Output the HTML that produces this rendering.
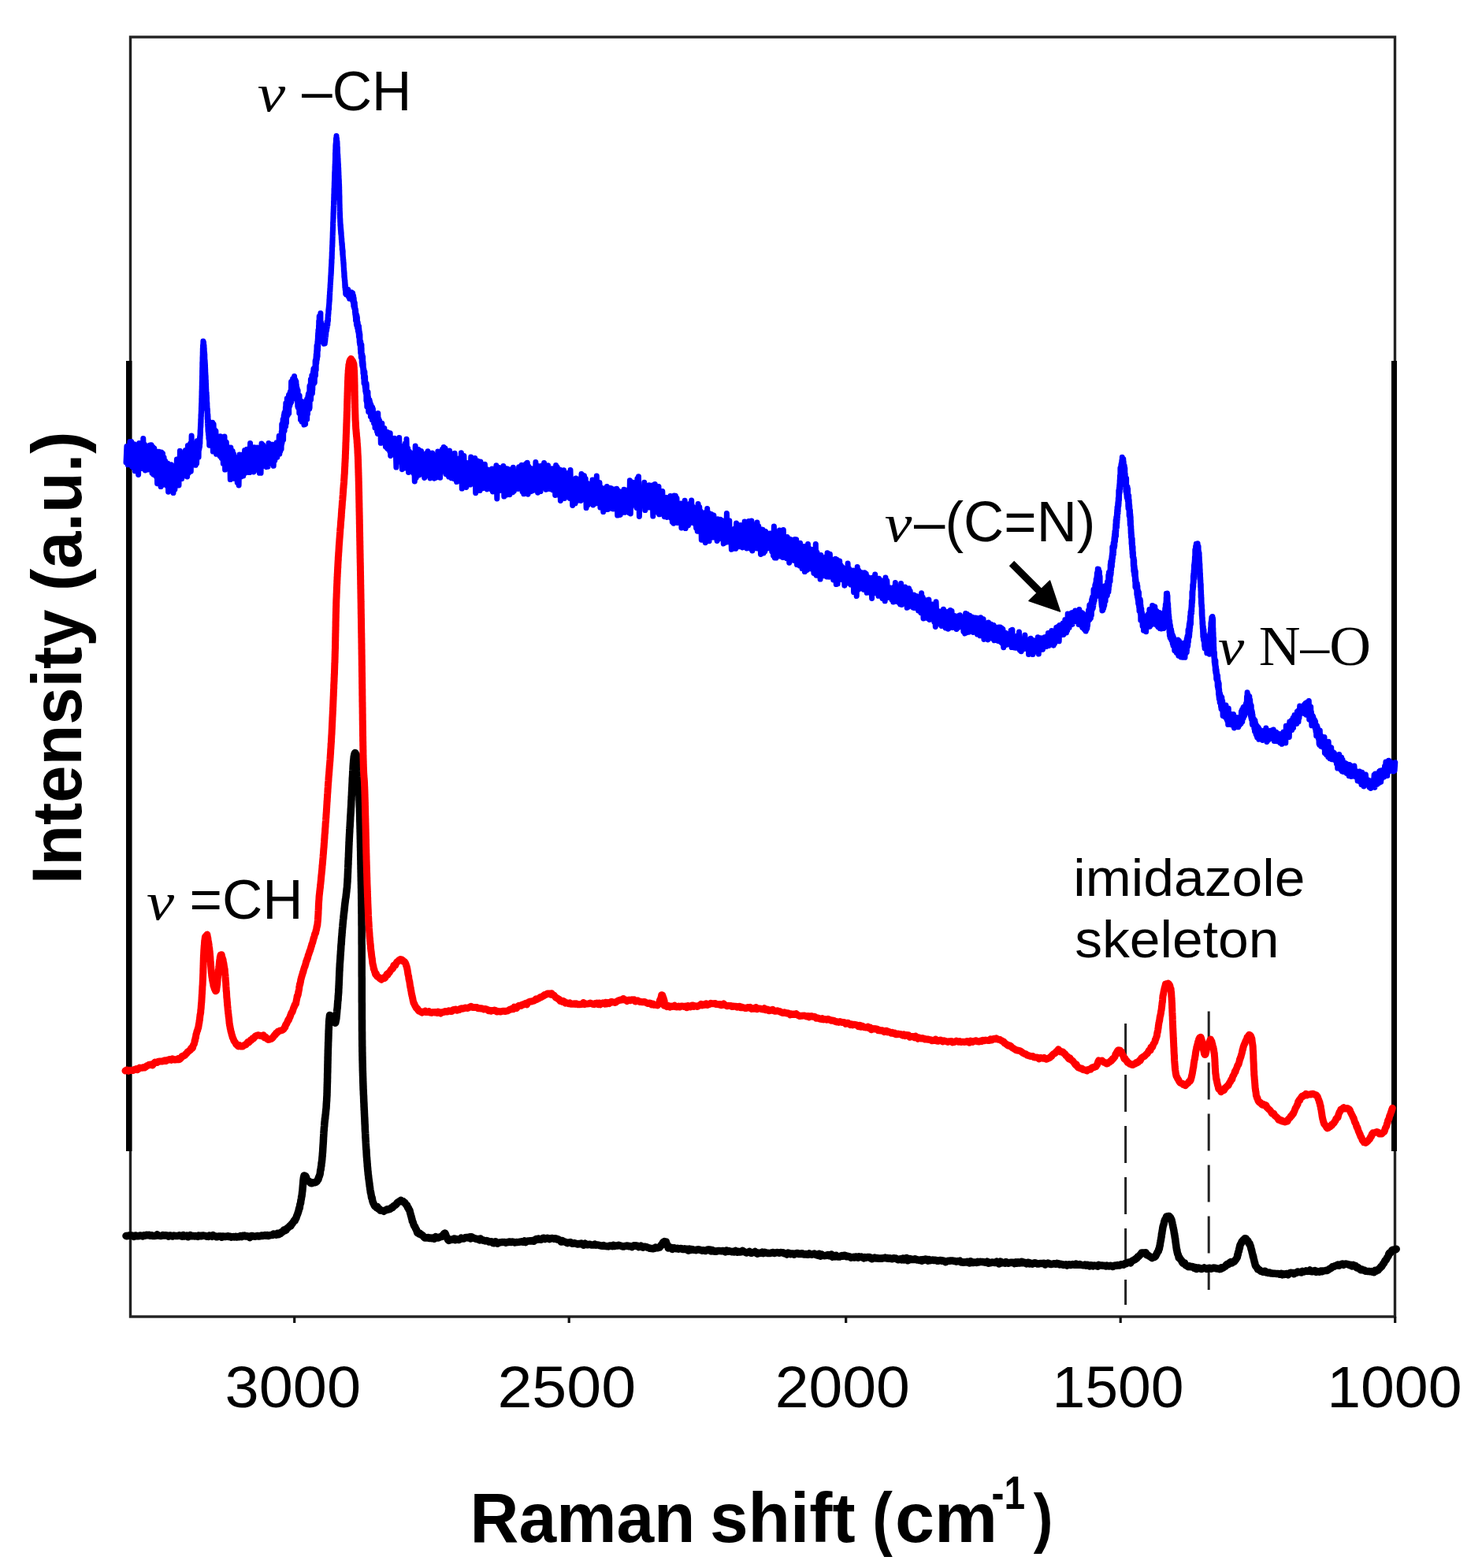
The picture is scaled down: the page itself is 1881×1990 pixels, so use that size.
<!DOCTYPE html>
<html><head><meta charset="utf-8"><title>Raman spectra</title>
<style>html,body{margin:0;padding:0;background:#fff;} svg{display:block;} text{font-kerning:none;}</style>
</head><body>
<svg width="1881" height="1990" viewBox="0 0 1881 1990">
<rect width="1881" height="1990" fill="#fff"/>
<rect x="165.5" y="47" width="1605.0" height="1624" fill="none" stroke="#222" stroke-width="3.4"/>
<rect x="160" y="458" width="7.5" height="1003" fill="#000"/>
<rect x="1766" y="458" width="7" height="1003" fill="#000"/>
<line x1="373.7" y1="1671" x2="373.7" y2="1679" stroke="#111" stroke-width="3.2"/>
<line x1="722.2" y1="1671" x2="722.2" y2="1679" stroke="#111" stroke-width="3.2"/>
<line x1="1073.7" y1="1671" x2="1073.7" y2="1679" stroke="#111" stroke-width="3.2"/>
<line x1="1422.2" y1="1671" x2="1422.2" y2="1679" stroke="#111" stroke-width="3.2"/>
<line x1="1770.7" y1="1671" x2="1770.7" y2="1679" stroke="#111" stroke-width="3.2"/>
<line x1="1428.6" y1="1299" x2="1428.6" y2="1656" stroke="#222" stroke-width="3" stroke-dasharray="47 18"/>
<line x1="1534.2" y1="1283.5" x2="1534.2" y2="1637" stroke="#222" stroke-width="3" stroke-dasharray="47 18"/>
<polyline points="160.0,1568.5 161.3,1568.7 162.8,1568.3 164.1,1568.0 165.5,1568.2 167.0,1567.9 168.6,1568.5 169.8,1569.3 171.1,1568.2 172.4,1568.1 173.8,1568.8 175.2,1568.7 176.6,1568.5 178.1,1567.9 179.6,1568.5 181.1,1568.9 182.7,1567.7 184.3,1568.2 185.9,1567.3 187.6,1567.7 189.2,1567.3 190.9,1568.3 192.6,1567.7 194.3,1568.6 196.1,1568.5 197.8,1568.3 199.5,1566.9 201.3,1568.1 203.1,1568.4 204.9,1568.5 206.6,1567.5 208.4,1568.1 210.2,1567.8 212.0,1567.9 213.8,1569.1 215.5,1567.9 217.3,1568.4 219.0,1569.0 220.8,1568.1 222.5,1568.4 224.2,1568.5 225.9,1568.5 227.6,1567.7 229.3,1568.5 230.9,1569.2 232.5,1567.5 234.1,1569.0 235.7,1568.5 237.2,1568.1 238.7,1569.7 240.2,1568.9 241.6,1567.7 243.0,1568.5 244.4,1568.8 245.7,1568.4 247.0,1568.9 248.2,1568.5 249.7,1568.9 251.0,1569.4 252.3,1568.1 253.6,1568.7 254.9,1568.3 256.1,1568.7 257.4,1567.9 259.2,1568.3 260.9,1568.6 262.6,1569.2 264.2,1569.4 265.8,1568.0 267.4,1568.4 268.9,1569.3 270.4,1567.7 271.9,1568.7 273.4,1569.0 274.8,1569.8 276.2,1569.5 277.5,1569.0 278.9,1569.0 280.2,1569.1 281.6,1570.2 282.9,1569.1 284.2,1569.2 285.5,1569.6 286.8,1569.3 288.2,1569.3 289.5,1568.8 290.8,1569.5 292.1,1569.2 293.5,1570.2 294.8,1569.9 296.2,1569.5 297.6,1569.9 299.0,1569.3 300.5,1570.1 302.1,1569.5 303.7,1569.8 305.3,1568.6 307.0,1569.6 308.6,1568.3 310.3,1568.1 312.0,1569.1 313.7,1568.7 315.4,1569.3 317.1,1570.5 318.8,1568.6 320.4,1568.6 322.1,1569.1 323.8,1569.2 325.4,1568.7 327.1,1568.6 328.7,1569.1 330.3,1568.9 331.8,1567.9 333.4,1568.4 334.8,1568.3 336.3,1567.6 337.7,1568.3 339.1,1567.5 340.4,1568.5 341.7,1568.0 342.9,1567.8 344.5,1567.3 345.9,1567.4 347.3,1566.1 348.7,1566.5 350.7,1567.1 352.2,1565.3 353.5,1566.8 354.9,1564.8 356.1,1565.6 357.0,1563.8 358.1,1563.9 359.3,1562.7 360.5,1560.9 361.7,1561.8 363.0,1561.1 364.2,1559.2 365.4,1558.2 366.7,1557.2 367.8,1555.7 369.0,1555.9 370.0,1553.8 371.0,1553.0 371.9,1551.4 372.8,1550.3 373.6,1548.7 374.3,1549.1 375.0,1547.0 375.7,1546.3 376.3,1544.3 377.0,1542.4 377.6,1541.0 378.0,1539.7 378.4,1538.8 378.8,1537.3 379.2,1536.0 379.5,1534.0 379.9,1532.9 380.3,1532.9 380.6,1530.0 380.9,1528.3 381.3,1527.6 381.6,1526.7 381.9,1523.4 382.2,1522.5 382.5,1520.7 382.7,1518.5 383.0,1518.4 383.2,1516.5 383.4,1515.0 383.6,1512.8 383.8,1511.9 384.0,1509.6 384.1,1508.1 384.3,1505.7 384.4,1504.0 384.5,1503.8 384.7,1501.1 384.8,1500.0 384.9,1498.4 385.1,1496.8 385.3,1495.2 385.4,1494.6 386.0,1492.0 387.5,1492.3 388.4,1493.6 389.0,1495.7 389.6,1497.1 390.4,1498.5 391.4,1499.0 392.7,1499.5 394.2,1501.5 395.9,1501.7 397.3,1500.8 398.5,1500.9 399.9,1500.7 401.2,1500.1 402.5,1499.0 403.3,1497.1 404.0,1496.9 404.5,1494.0 405.0,1493.8 405.3,1492.4 405.7,1491.4 406.0,1490.7 406.3,1489.1 406.6,1486.1 406.9,1484.2 407.2,1484.1 407.4,1481.3 407.7,1480.1 407.9,1479.4 408.0,1476.7 408.2,1475.1 408.4,1475.2 408.5,1473.7 408.7,1472.1 408.8,1471.0 408.9,1469.2 409.1,1467.5 409.2,1466.9 409.3,1465.0 409.4,1463.2 409.5,1463.0 409.6,1461.2 409.7,1459.9 409.8,1457.5 409.9,1456.2 410.0,1454.4 410.1,1452.8 410.2,1451.9 410.3,1449.7 410.4,1448.8 410.4,1447.1 410.5,1446.5 410.6,1442.9 410.7,1442.7 410.8,1440.5 410.9,1439.0 411.0,1436.6 411.1,1435.6 411.2,1434.9 411.3,1432.9 411.4,1431.5 411.6,1429.8 411.7,1429.1 411.8,1427.0 412.0,1424.3 412.1,1423.8 412.3,1421.7 412.4,1419.6 412.5,1419.9 412.7,1419.7 412.8,1417.6 413.0,1415.5 413.1,1414.3 413.3,1414.2 413.4,1412.2 413.5,1410.8 413.7,1409.2 413.8,1407.8 414.0,1406.7 414.1,1405.0 414.2,1403.1 414.3,1400.7 414.4,1399.8 414.5,1397.8 414.6,1397.6 414.7,1394.9 414.7,1394.1 414.8,1393.0 414.9,1390.9 414.9,1391.4 415.0,1389.9 415.0,1387.4 415.1,1386.7 415.1,1385.0 415.2,1381.7 415.2,1382.0 415.2,1380.2 415.3,1378.8 415.3,1376.5 415.4,1375.4 415.4,1373.9 415.5,1373.1 415.5,1371.0 415.5,1369.2 415.6,1368.4 415.6,1365.5 415.6,1364.0 415.7,1361.5 415.7,1361.9 415.8,1359.9 415.8,1358.2 415.8,1356.4 415.9,1354.5 415.9,1352.9 415.9,1351.0 416.0,1349.5 416.0,1348.1 416.0,1347.4 416.1,1345.3 416.1,1343.4 416.1,1341.6 416.2,1340.1 416.2,1340.0 416.2,1338.0 416.3,1336.3 416.3,1334.8 416.3,1333.0 416.4,1332.4 416.4,1331.2 416.5,1329.2 416.5,1328.0 416.6,1326.8 416.6,1325.7 416.6,1323.4 416.7,1323.0 416.7,1321.4 416.8,1321.3 416.8,1319.1 416.9,1318.1 416.9,1316.9 417.0,1314.1 417.0,1312.2 417.1,1311.0 417.1,1309.3 417.2,1307.1 417.3,1306.5 417.3,1305.9 417.4,1303.1 417.4,1301.8 417.5,1299.9 417.6,1299.5 417.6,1297.3 417.7,1295.8 417.8,1295.8 417.9,1293.2 418.0,1293.2 418.3,1290.5 418.5,1288.4 419.7,1289.0 420.7,1291.0 421.6,1291.3 422.2,1292.2 423.0,1293.2 423.8,1295.4 424.6,1297.8 425.7,1298.2 426.2,1295.7 426.5,1294.4 426.7,1293.3 426.9,1292.3 427.0,1290.4 427.2,1289.0 427.4,1287.3 427.5,1285.7 427.6,1284.7 427.7,1283.6 427.8,1281.7 428.0,1280.3 428.1,1279.8 428.3,1277.7 428.4,1276.1 428.5,1273.7 428.6,1273.6 428.7,1270.9 428.9,1269.8 429.0,1269.8 429.1,1268.2 429.2,1266.1 429.3,1263.5 429.5,1262.6 429.5,1261.2 429.6,1260.7 429.7,1260.4 429.8,1257.9 429.8,1256.1 429.9,1254.6 430.0,1253.9 430.0,1252.5 430.1,1250.5 430.2,1249.9 430.2,1247.7 430.3,1247.6 430.3,1246.1 430.4,1244.6 430.5,1242.1 430.5,1241.1 430.6,1239.2 430.7,1237.4 430.7,1235.9 430.8,1233.7 430.9,1232.0 431.0,1231.7 431.0,1229.5 431.1,1228.1 431.2,1226.9 431.3,1223.6 431.4,1222.5 431.5,1221.7 431.6,1220.4 431.7,1218.5 431.8,1217.9 431.9,1215.9 432.0,1213.5 432.1,1212.1 432.2,1211.6 432.3,1209.9 432.4,1206.9 432.5,1207.2 432.6,1205.2 432.7,1204.0 432.8,1201.4 432.9,1199.9 433.1,1197.8 433.2,1198.4 433.3,1195.2 433.4,1194.8 433.5,1191.9 433.6,1190.8 433.8,1188.3 433.9,1187.6 434.0,1186.9 434.1,1184.2 434.2,1184.2 434.3,1182.4 434.4,1180.2 434.6,1179.1 434.7,1177.3 434.9,1175.8 435.0,1173.9 435.2,1172.0 435.3,1170.8 435.5,1168.8 435.6,1167.1 435.8,1166.3 435.9,1165.4 436.1,1162.5 436.2,1162.0 436.4,1160.2 436.5,1158.6 436.7,1158.3 436.8,1156.1 437.0,1155.9 437.1,1153.2 437.3,1152.5 437.4,1150.8 437.6,1149.0 437.7,1148.2 437.9,1146.2 438.1,1145.1 438.3,1143.2 438.5,1141.2 438.7,1140.3 438.9,1139.0 439.1,1138.1 439.3,1135.5 439.5,1134.6 439.7,1132.2 439.8,1132.1 440.0,1129.6 440.2,1127.6 440.3,1127.1 440.5,1126.2 440.6,1123.2 440.7,1122.0 440.8,1120.8 440.9,1119.2 441.0,1118.7 441.0,1116.5 441.1,1115.1 441.2,1114.4 441.3,1112.2 441.3,1111.4 441.4,1109.0 441.5,1107.4 441.5,1105.5 441.6,1106.2 441.6,1103.3 441.7,1102.1 441.8,1100.3 441.8,1098.9 441.9,1097.2 442.0,1096.7 442.0,1093.4 442.1,1091.7 442.2,1090.6 442.2,1089.0 442.3,1088.8 442.4,1087.3 442.4,1084.8 442.5,1083.0 442.5,1082.2 442.6,1081.7 442.7,1077.6 442.7,1078.1 442.8,1075.6 442.8,1075.4 442.9,1072.6 443.0,1071.5 443.0,1069.2 443.1,1068.0 443.2,1067.9 443.2,1066.0 443.3,1063.8 443.4,1062.0 443.5,1059.9 443.5,1059.3 443.6,1058.0 443.7,1056.4 443.8,1054.9 443.8,1052.8 443.9,1051.9 444.0,1050.3 444.1,1049.6 444.2,1048.4 444.3,1045.7 444.4,1043.8 444.5,1042.7 444.6,1040.8 444.7,1039.2 444.7,1038.1 444.8,1036.0 444.9,1035.5 445.0,1033.6 445.1,1032.3 445.2,1030.6 445.3,1028.8 445.3,1027.3 445.4,1026.3 445.5,1024.7 445.6,1023.5 445.7,1021.8 445.8,1019.4 445.8,1018.7 445.9,1016.3 446.0,1015.2 446.1,1013.8 446.1,1011.3 446.2,1011.0 446.3,1009.6 446.4,1007.9 446.4,1006.3 446.5,1004.9 446.6,1003.0 446.6,1002.0 446.7,1000.4 446.8,999.3 446.9,997.1 446.9,996.6 447.0,995.1 447.1,993.3 447.2,991.5 447.2,990.5 447.3,987.5 447.4,987.1 447.5,985.3 447.6,983.7 447.7,982.1 447.7,979.9 447.8,978.6 447.9,977.6 448.0,976.0 448.1,974.4 448.2,972.0 448.2,971.9 448.3,971.0 448.4,969.3 448.6,967.3 448.7,964.7 448.9,964.8 449.0,962.8 449.3,959.8 449.5,960.1 449.8,957.5 450.1,956.5 450.8,955.4 452.0,957.8 452.4,958.1 452.6,959.8 452.8,962.0 453.0,963.5 453.1,963.8 453.3,965.2 453.4,966.3 453.5,967.9 453.6,970.0 453.8,971.5 453.9,972.9 454.0,974.7 454.1,974.9 454.2,976.7 454.3,978.6 454.4,979.9 454.5,981.7 454.6,982.8 454.7,984.0 454.8,986.0 454.9,986.8 455.0,988.1 455.1,991.2 455.1,992.6 455.2,994.6 455.3,994.6 455.4,996.6 455.4,997.7 455.5,998.8 455.5,999.5 455.6,1001.9 455.6,1003.9 455.7,1004.9 455.7,1005.7 455.8,1007.4 455.8,1009.3 455.9,1008.6 455.9,1011.6 456.0,1013.5 456.0,1015.1 456.1,1017.2 456.1,1018.4 456.2,1019.4 456.2,1020.9 456.3,1022.8 456.3,1023.6 456.4,1025.4 456.4,1027.6 456.4,1029.8 456.5,1030.1 456.5,1031.8 456.6,1033.5 456.6,1035.8 456.7,1036.5 456.7,1039.0 456.7,1039.1 456.8,1041.2 456.8,1042.7 456.9,1044.9 456.9,1046.6 456.9,1046.6 457.0,1048.4 457.0,1050.7 457.0,1051.6 457.1,1052.6 457.1,1055.6 457.2,1056.7 457.2,1058.1 457.2,1059.0 457.3,1061.3 457.3,1062.0 457.3,1064.2 457.3,1064.4 457.4,1065.9 457.4,1067.9 457.4,1068.8 457.5,1071.1 457.5,1072.2 457.5,1073.0 457.5,1075.0 457.6,1076.2 457.6,1078.4 457.6,1079.0 457.7,1080.6 457.7,1083.0 457.7,1085.2 457.7,1086.5 457.8,1086.9 457.8,1088.6 457.8,1091.0 457.9,1091.6 457.9,1092.7 457.9,1095.0 457.9,1096.8 458.0,1097.8 458.0,1099.0 458.0,1100.4 458.0,1103.0 458.1,1103.4 458.1,1104.9 458.1,1106.7 458.2,1108.5 458.2,1109.5 458.2,1111.5 458.2,1112.1 458.3,1113.9 458.3,1115.0 458.3,1117.8 458.4,1118.6 458.4,1119.7 458.4,1121.5 458.5,1123.2 458.5,1124.9 458.5,1124.8 458.5,1126.4 458.6,1128.1 458.6,1131.2 458.6,1131.6 458.6,1132.4 458.7,1134.4 458.7,1136.7 458.7,1136.9 458.7,1138.5 458.7,1141.1 458.8,1142.4 458.8,1144.3 458.8,1144.8 458.8,1147.6 458.8,1148.7 458.8,1149.4 458.9,1150.8 458.9,1150.6 458.9,1153.6 458.9,1154.6 458.9,1156.4 458.9,1158.1 458.9,1159.1 459.0,1159.9 459.0,1162.8 459.0,1163.8 459.0,1165.8 459.0,1167.1 459.0,1168.7 459.0,1169.0 459.0,1172.6 459.0,1173.6 459.1,1175.7 459.1,1177.5 459.1,1177.6 459.1,1177.7 459.1,1179.6 459.1,1180.7 459.1,1182.4 459.1,1184.1 459.1,1184.2 459.1,1187.0 459.1,1187.2 459.1,1189.7 459.1,1190.9 459.1,1192.2 459.1,1193.8 459.1,1195.0 459.1,1196.4 459.1,1197.2 459.2,1199.7 459.2,1202.3 459.2,1203.9 459.2,1205.1 459.2,1206.3 459.2,1207.0 459.2,1209.8 459.2,1210.5 459.2,1212.1 459.2,1213.5 459.2,1215.4 459.2,1216.7 459.2,1218.5 459.2,1219.5 459.2,1221.6 459.2,1224.8 459.2,1225.0 459.2,1226.6 459.2,1228.7 459.2,1230.5 459.2,1231.1 459.2,1233.3 459.2,1235.6 459.2,1236.9 459.2,1238.5 459.3,1241.1 459.3,1241.4 459.3,1243.6 459.3,1244.9 459.3,1247.8 459.3,1247.5 459.3,1249.9 459.3,1251.7 459.3,1254.1 459.3,1255.8 459.3,1258.0 459.3,1257.9 459.3,1261.0 459.3,1262.0 459.3,1263.5 459.3,1265.9 459.3,1266.7 459.3,1267.7 459.3,1270.4 459.3,1271.4 459.4,1273.6 459.4,1275.9 459.4,1277.5 459.4,1279.9 459.4,1280.5 459.4,1281.3 459.4,1283.4 459.4,1284.9 459.4,1286.4 459.4,1289.0 459.4,1289.9 459.4,1290.7 459.4,1293.9 459.5,1295.0 459.5,1296.8 459.5,1298.2 459.5,1300.1 459.5,1301.3 459.5,1303.5 459.5,1304.5 459.5,1306.0 459.5,1307.5 459.5,1307.8 459.6,1310.1 459.6,1311.4 459.6,1313.2 459.6,1313.6 459.6,1316.8 459.6,1317.3 459.6,1317.8 459.6,1318.9 459.7,1321.1 459.7,1322.5 459.7,1323.4 459.7,1325.2 459.7,1326.0 459.7,1328.0 459.8,1328.4 459.8,1330.0 459.8,1332.2 459.8,1335.0 459.8,1334.2 459.9,1335.9 459.9,1337.1 459.9,1339.4 459.9,1339.6 460.0,1341.3 460.0,1342.9 460.0,1343.6 460.0,1344.9 460.1,1346.5 460.1,1346.8 460.1,1348.5 460.2,1350.3 460.2,1351.9 460.2,1352.9 460.2,1353.1 460.3,1355.7 460.3,1358.2 460.4,1359.8 460.4,1361.2 460.5,1362.4 460.5,1364.9 460.6,1365.9 460.6,1367.1 460.7,1368.9 460.7,1371.9 460.8,1372.7 460.8,1374.8 460.9,1375.3 460.9,1377.7 461.0,1378.2 461.0,1380.0 461.1,1383.0 461.2,1383.4 461.2,1384.0 461.3,1385.7 461.3,1387.3 461.4,1389.2 461.4,1389.6 461.5,1390.2 461.6,1392.4 461.6,1393.9 461.7,1395.2 461.7,1397.3 461.8,1398.0 461.8,1399.5 461.9,1399.7 462.0,1402.1 462.0,1404.1 462.1,1404.6 462.1,1405.5 462.2,1406.7 462.2,1408.9 462.3,1408.5 462.4,1410.2 462.4,1411.8 462.5,1413.1 462.5,1413.6 462.6,1415.3 462.6,1416.2 462.7,1417.6 462.8,1418.7 462.8,1419.3 462.9,1421.2 462.9,1423.2 463.0,1423.4 463.0,1425.1 463.1,1426.9 463.2,1427.1 463.2,1429.1 463.3,1429.5 463.3,1432.1 463.4,1434.6 463.5,1436.2 463.6,1436.6 463.7,1438.8 463.8,1440.1 463.8,1441.8 463.9,1444.3 464.0,1444.2 464.1,1447.2 464.2,1448.1 464.3,1450.5 464.4,1451.3 464.4,1452.2 464.5,1454.3 464.6,1456.0 464.7,1457.0 464.8,1458.7 464.9,1459.5 465.0,1459.9 465.1,1463.1 465.2,1464.3 465.2,1465.3 465.3,1466.5 465.4,1468.4 465.5,1468.8 465.6,1469.9 465.7,1471.4 465.8,1473.5 465.9,1473.2 466.0,1475.9 466.1,1476.0 466.2,1477.3 466.3,1480.1 466.4,1480.6 466.5,1481.2 466.6,1483.0 466.8,1485.0 466.9,1486.4 467.1,1487.2 467.2,1489.4 467.4,1491.2 467.6,1492.0 467.8,1494.2 467.9,1495.4 468.1,1496.6 468.3,1498.0 468.5,1499.7 468.7,1501.1 468.8,1502.0 469.0,1503.4 469.2,1505.5 469.4,1506.2 469.6,1507.8 469.8,1509.6 470.1,1511.1 470.3,1513.5 470.6,1512.9 470.8,1515.1 471.0,1515.7 471.4,1518.7 471.7,1520.2 472.0,1519.4 472.4,1521.4 472.7,1523.7 473.1,1524.9 473.6,1526.4 474.3,1527.7 474.9,1529.2 475.8,1530.7 476.8,1531.2 477.9,1532.7 479.0,1531.6 480.2,1534.3 481.5,1534.3 482.8,1536.3 484.2,1536.3 485.6,1536.4 487.0,1537.3 488.5,1536.3 490.0,1535.8 491.5,1534.7 493.0,1535.0 494.3,1534.6 495.6,1534.2 496.9,1532.7 498.2,1532.5 499.4,1531.0 500.6,1530.0 501.8,1529.3 502.9,1528.5 504.0,1526.6 505.0,1525.9 506.1,1525.2 507.5,1524.4 508.9,1523.4 510.3,1524.8 511.6,1524.6 513.0,1526.3 514.0,1526.5 514.8,1528.1 515.7,1529.2 516.6,1529.8 517.5,1532.5 518.3,1533.0 518.9,1534.9 519.4,1535.6 519.8,1535.8 520.2,1537.3 520.6,1539.2 521.0,1540.4 521.4,1542.0 521.7,1543.3 522.1,1544.0 522.5,1546.5 522.9,1546.8 523.3,1549.8 523.9,1550.6 524.4,1552.1 525.0,1554.0 525.7,1555.8 526.3,1556.3 526.9,1557.6 527.6,1559.3 528.2,1560.0 528.9,1561.8 529.7,1564.5 530.5,1563.9 531.7,1565.9 533.0,1565.3 534.3,1567.0 535.6,1567.4 536.7,1568.3 537.8,1569.6 539.0,1571.0 540.6,1570.7 541.9,1571.0 543.4,1570.5 544.7,1571.5 546.2,1571.0 547.9,1571.7 549.6,1571.1 551.3,1572.1 553.1,1569.7 554.8,1570.6 556.4,1571.1 557.8,1570.2 559.0,1569.7 560.5,1569.6 561.6,1568.0 562.3,1567.9 563.0,1567.7 563.5,1565.8 564.8,1565.0 565.5,1566.4 566.0,1567.8 566.5,1569.8 567.0,1569.8 567.7,1571.3 568.6,1573.4 569.6,1574.4 571.2,1573.8 572.5,1573.3 573.8,1573.0 575.3,1573.3 576.5,1572.1 577.8,1573.7 579.2,1572.6 580.7,1572.9 582.3,1573.5 583.9,1572.7 585.5,1571.1 587.2,1572.0 588.9,1572.0 590.7,1570.7 592.5,1570.4 594.2,1570.9 596.0,1570.0 597.3,1572.0 598.6,1569.8 600.0,1570.7 601.3,1571.4 602.7,1571.7 604.1,1572.2 605.5,1572.6 606.9,1572.6 608.4,1573.7 609.8,1572.1 611.3,1573.7 612.8,1573.7 614.3,1574.5 615.9,1574.9 617.5,1574.5 619.1,1575.0 620.7,1576.1 622.3,1576.1 624.0,1575.7 625.7,1577.5 627.4,1577.8 628.9,1575.7 630.3,1576.8 631.7,1578.2 633.1,1577.2 634.6,1576.9 636.1,1576.6 637.6,1576.4 639.2,1576.6 640.7,1576.4 642.3,1577.2 643.9,1576.5 645.5,1576.4 647.1,1575.9 648.8,1576.6 650.4,1576.0 652.0,1576.4 653.6,1577.0 655.2,1576.6 656.8,1576.6 658.3,1576.4 659.9,1576.1 661.4,1575.9 662.9,1575.7 664.3,1576.3 665.7,1575.1 667.1,1576.5 668.5,1575.6 669.8,1575.0 671.2,1575.1 672.4,1574.8 674.2,1575.1 675.9,1574.4 677.6,1575.2 679.1,1573.8 680.7,1572.5 682.2,1573.1 683.6,1572.1 685.0,1572.9 686.4,1573.3 687.8,1572.7 689.2,1571.2 690.5,1571.3 691.9,1572.6 693.2,1571.6 694.6,1571.3 696.0,1571.8 697.4,1572.6 698.8,1572.0 700.3,1571.4 701.7,1571.8 703.1,1572.2 704.4,1571.8 705.8,1571.9 707.1,1572.9 708.4,1572.8 709.7,1573.7 711.1,1574.3 712.4,1576.1 713.9,1574.7 715.3,1575.6 716.9,1576.0 718.5,1576.8 720.2,1577.6 721.4,1576.9 722.6,1576.9 723.9,1576.6 725.1,1577.2 726.4,1578.3 727.7,1578.1 729.0,1577.6 730.4,1578.2 731.8,1578.5 733.2,1579.0 734.7,1578.4 736.2,1578.8 737.7,1578.0 739.2,1578.5 740.7,1580.3 742.3,1578.1 743.9,1579.3 745.4,1579.8 747.0,1579.5 748.6,1579.3 750.2,1579.9 751.8,1580.0 753.4,1580.1 755.0,1579.1 756.6,1580.2 758.2,1579.9 759.8,1580.1 761.4,1580.7 762.9,1581.0 764.5,1581.2 766.0,1580.5 767.5,1581.4 769.0,1581.6 770.6,1581.7 772.2,1581.9 773.8,1581.0 775.4,1581.0 777.0,1581.7 778.6,1580.4 780.2,1581.4 781.9,1580.9 783.5,1581.1 785.1,1580.3 786.8,1580.8 788.4,1581.3 790.0,1581.9 791.6,1582.0 793.1,1581.4 794.7,1581.3 796.2,1581.0 797.7,1581.7 799.2,1581.4 800.6,1581.9 802.0,1582.6 803.4,1581.6 804.7,1580.7 806.0,1581.2 807.2,1580.8 808.8,1581.1 810.7,1582.7 812.1,1582.1 813.5,1581.2 814.8,1582.6 816.0,1583.1 817.2,1582.2 819.0,1582.3 820.6,1582.7 822.1,1583.3 823.5,1583.7 824.8,1584.2 826.0,1584.4 827.6,1584.5 829.1,1584.8 830.5,1584.4 832.2,1583.1 833.5,1583.8 835.0,1583.8 836.2,1583.0 837.2,1583.1 838.4,1581.5 839.4,1579.8 840.1,1580.2 840.7,1578.6 841.3,1577.3 842.1,1576.3 843.3,1575.6 844.5,1576.1 845.4,1575.9 846.0,1578.1 846.6,1579.4 847.2,1580.2 848.0,1582.1 848.2,1584.0 850.0,1583.5 851.8,1583.3 853.3,1585.4 854.6,1584.0 856.0,1583.7 857.5,1584.6 858.7,1584.8 860.0,1584.3 861.3,1585.2 862.7,1584.6 864.2,1584.4 865.7,1585.1 867.3,1585.6 869.0,1584.8 870.7,1585.5 872.4,1585.3 873.7,1587.2 874.9,1585.1 876.2,1586.4 877.5,1585.6 878.9,1585.7 880.2,1586.2 881.6,1586.4 883.1,1586.7 884.6,1586.2 886.1,1585.8 887.7,1585.9 889.0,1586.6 890.2,1586.7 891.5,1587.2 892.7,1586.7 894.1,1587.2 895.4,1587.5 896.7,1586.8 898.1,1585.9 899.5,1586.1 900.9,1586.0 902.3,1587.9 903.7,1586.5 905.2,1587.9 906.6,1587.5 908.1,1588.3 909.6,1588.0 911.1,1587.4 912.7,1587.4 914.2,1587.6 915.8,1587.8 917.4,1587.4 919.0,1587.8 920.6,1588.9 922.2,1586.9 923.8,1588.2 925.4,1587.6 927.1,1588.3 928.8,1588.8 930.4,1588.3 932.1,1588.9 933.8,1587.5 935.5,1589.2 937.3,1588.3 939.0,1589.1 940.7,1588.9 942.5,1587.3 944.2,1588.5 945.8,1589.2 947.2,1590.0 948.5,1589.3 949.9,1589.3 951.2,1588.4 952.6,1590.1 954.0,1590.4 955.5,1589.4 956.9,1589.3 958.3,1588.5 959.8,1590.1 961.3,1591.2 962.8,1590.1 964.3,1590.5 965.8,1590.1 967.3,1589.2 968.8,1590.7 970.3,1589.2 971.9,1589.8 973.4,1590.2 975.0,1590.6 976.5,1590.4 978.1,1590.4 979.7,1589.8 981.3,1589.5 982.8,1590.4 984.4,1589.9 986.0,1589.6 987.6,1589.7 989.2,1590.2 990.7,1589.5 992.3,1589.8 993.9,1589.7 995.5,1590.8 997.1,1591.0 998.7,1592.0 1000.2,1590.0 1001.8,1590.5 1003.4,1591.6 1004.9,1590.9 1006.5,1590.9 1008.0,1592.2 1009.6,1591.0 1011.1,1590.6 1012.6,1590.5 1014.1,1591.6 1015.6,1591.6 1017.1,1590.7 1018.6,1591.0 1020.1,1592.0 1021.5,1592.0 1023.0,1591.4 1024.4,1592.2 1025.8,1592.2 1027.2,1590.9 1028.6,1591.8 1030.3,1592.3 1031.9,1591.8 1033.5,1591.0 1035.1,1592.1 1036.7,1592.8 1038.3,1593.4 1039.9,1591.3 1041.5,1594.2 1043.0,1592.1 1044.6,1593.4 1046.1,1593.7 1047.7,1593.6 1049.2,1593.2 1050.7,1592.5 1052.2,1593.6 1053.7,1592.9 1055.2,1591.9 1056.7,1595.2 1058.2,1594.1 1059.7,1594.8 1061.2,1593.3 1062.6,1594.8 1064.1,1595.0 1065.6,1595.0 1067.1,1594.2 1068.5,1593.6 1070.0,1594.3 1071.4,1593.2 1072.9,1593.5 1074.3,1594.7 1075.8,1594.2 1077.3,1594.7 1078.7,1594.9 1080.2,1596.2 1081.6,1595.9 1083.1,1595.2 1084.6,1596.0 1086.0,1594.9 1087.5,1595.2 1089.0,1596.1 1090.4,1594.9 1091.9,1595.5 1093.4,1595.0 1094.9,1595.9 1096.4,1596.9 1097.9,1595.5 1099.4,1596.2 1100.9,1595.6 1102.4,1595.5 1103.9,1595.5 1105.4,1597.2 1106.9,1597.8 1108.4,1596.8 1110.0,1596.1 1111.5,1597.0 1113.0,1596.5 1114.5,1597.2 1116.0,1597.0 1117.5,1597.0 1119.0,1597.3 1120.5,1596.7 1122.0,1596.8 1123.5,1596.1 1125.0,1596.9 1126.5,1596.4 1128.0,1597.2 1129.5,1596.8 1131.0,1597.5 1132.6,1597.7 1134.1,1596.7 1135.6,1597.1 1137.1,1597.1 1138.6,1598.2 1140.1,1598.8 1141.6,1598.3 1143.1,1597.7 1144.6,1598.8 1146.1,1597.1 1147.6,1598.9 1149.1,1597.7 1150.6,1596.5 1152.1,1599.8 1153.6,1599.2 1155.1,1597.7 1156.7,1598.5 1158.2,1598.3 1159.7,1598.6 1161.2,1597.7 1162.7,1598.2 1164.2,1599.0 1165.7,1598.9 1167.2,1599.5 1168.7,1598.9 1170.2,1600.3 1171.7,1598.6 1173.2,1599.2 1174.7,1598.0 1176.2,1598.4 1177.7,1600.0 1179.3,1598.7 1180.8,1599.7 1182.3,1599.4 1183.8,1598.9 1185.3,1599.4 1186.8,1599.3 1188.3,1599.4 1189.8,1600.2 1191.3,1600.2 1192.8,1599.5 1194.3,1599.4 1195.8,1600.2 1197.3,1600.0 1198.8,1600.8 1200.3,1601.8 1201.9,1600.8 1203.4,1600.3 1204.9,1600.3 1206.4,1600.0 1207.9,1600.0 1209.4,1600.0 1210.9,1600.4 1212.4,1600.5 1213.9,1601.2 1215.4,1600.6 1216.9,1600.8 1218.4,1600.2 1219.9,1602.0 1221.4,1601.4 1222.9,1602.2 1224.5,1601.7 1226.0,1602.1 1227.5,1601.2 1229.0,1601.8 1230.5,1603.0 1232.0,1600.7 1233.5,1602.2 1235.0,1602.6 1236.5,1601.9 1238.0,1602.1 1239.5,1602.5 1241.0,1601.3 1242.5,1602.0 1244.0,1601.3 1245.5,1601.4 1247.0,1601.5 1248.5,1601.8 1250.0,1602.0 1251.5,1602.3 1253.1,1601.1 1254.6,1603.2 1256.1,1602.8 1257.6,1602.5 1259.1,1601.9 1260.6,1602.1 1262.1,1602.5 1263.6,1602.4 1265.1,1601.2 1266.6,1602.7 1268.1,1604.1 1269.6,1601.1 1271.1,1602.9 1272.6,1602.6 1274.1,1602.3 1275.6,1603.2 1277.1,1601.7 1278.6,1602.5 1280.1,1603.3 1281.6,1602.4 1283.1,1602.2 1284.6,1602.6 1286.1,1602.3 1287.6,1603.5 1289.1,1602.0 1290.7,1603.2 1292.2,1601.9 1293.7,1603.1 1295.2,1602.7 1296.7,1601.2 1298.2,1602.8 1299.7,1602.2 1301.2,1602.6 1302.7,1603.9 1304.2,1602.3 1305.7,1602.3 1307.2,1603.9 1308.8,1603.2 1310.3,1604.1 1311.9,1603.4 1313.5,1602.7 1315.1,1603.3 1316.7,1604.1 1318.3,1604.0 1319.9,1603.5 1321.6,1603.6 1323.2,1603.5 1324.9,1603.3 1326.5,1604.9 1328.2,1603.8 1329.9,1603.1 1331.5,1603.6 1333.2,1604.4 1334.9,1604.4 1336.5,1604.0 1338.2,1603.8 1339.8,1604.3 1341.5,1603.3 1343.1,1603.6 1344.7,1604.9 1346.3,1604.2 1347.9,1604.8 1349.5,1605.4 1351.1,1605.1 1352.6,1604.8 1354.2,1606.1 1355.7,1605.3 1357.2,1604.7 1358.6,1605.5 1360.1,1605.3 1361.5,1604.6 1362.9,1605.2 1364.2,1605.2 1365.6,1604.1 1366.9,1605.3 1368.1,1605.2 1369.4,1605.2 1370.6,1604.5 1372.1,1605.4 1373.6,1605.6 1375.0,1605.8 1376.8,1605.1 1378.5,1606.2 1380.1,1605.2 1381.5,1605.8 1382.9,1606.8 1384.2,1605.7 1385.9,1605.9 1387.4,1606.9 1388.9,1606.1 1390.1,1606.2 1391.7,1606.6 1393.2,1607.2 1394.6,1605.3 1396.0,1606.1 1397.5,1606.1 1398.7,1606.0 1400.0,1606.2 1401.7,1606.2 1403.3,1606.9 1404.9,1606.1 1406.5,1606.8 1408.0,1606.9 1409.6,1606.2 1411.1,1606.7 1412.6,1607.5 1414.0,1606.6 1415.5,1605.9 1416.9,1606.2 1418.3,1605.5 1419.7,1606.0 1421.1,1606.1 1422.8,1604.8 1424.4,1604.8 1426.0,1605.2 1427.6,1603.8 1429.2,1603.7 1430.7,1602.5 1432.2,1602.1 1433.5,1601.8 1434.8,1602.9 1436.1,1600.8 1437.2,1600.2 1438.3,1599.6 1439.8,1598.8 1441.0,1598.3 1442.1,1596.9 1443.0,1597.0 1444.0,1595.0 1445.0,1594.9 1446.4,1593.1 1447.7,1592.2 1449.0,1590.0 1450.3,1590.2 1451.6,1590.0 1452.9,1590.2 1454.2,1589.8 1455.5,1592.7 1456.7,1592.9 1458.0,1593.7 1459.6,1594.8 1460.6,1595.4 1462.1,1596.6 1463.5,1595.8 1464.7,1595.5 1465.7,1595.3 1466.7,1594.1 1467.6,1592.3 1468.5,1590.7 1469.2,1589.1 1469.7,1588.5 1470.3,1587.8 1470.8,1585.3 1471.2,1585.4 1471.6,1583.3 1472.0,1581.2 1472.3,1580.5 1472.6,1577.6 1472.9,1576.1 1473.1,1574.9 1473.4,1573.9 1473.6,1572.3 1473.9,1570.5 1474.2,1569.2 1474.4,1566.1 1474.7,1566.0 1475.0,1563.2 1475.2,1562.0 1475.5,1560.6 1475.7,1558.7 1476.0,1557.2 1476.2,1556.1 1476.6,1555.2 1476.9,1554.1 1477.3,1552.8 1477.8,1550.2 1478.3,1548.9 1478.8,1547.7 1479.5,1547.2 1480.5,1544.1 1481.4,1545.1 1482.7,1543.6 1483.9,1543.6 1485.3,1544.9 1486.3,1546.7 1487.0,1548.2 1487.4,1550.0 1487.7,1551.0 1488.0,1553.0 1488.3,1554.4 1488.6,1555.1 1488.9,1557.6 1489.2,1558.5 1489.5,1560.1 1489.8,1561.2 1490.1,1563.3 1490.4,1565.7 1490.7,1566.1 1491.0,1568.8 1491.2,1570.1 1491.4,1571.5 1491.6,1571.6 1491.9,1574.4 1492.1,1576.5 1492.3,1577.3 1492.5,1579.5 1492.7,1579.6 1493.0,1583.1 1493.2,1583.9 1493.5,1586.3 1493.8,1586.2 1494.1,1589.1 1494.4,1589.9 1494.8,1591.7 1495.2,1592.1 1495.7,1593.5 1496.2,1596.3 1496.9,1595.9 1497.7,1597.4 1498.6,1598.8 1499.5,1599.5 1500.4,1601.8 1501.4,1603.1 1502.5,1602.6 1503.6,1602.9 1504.7,1605.5 1505.8,1606.2 1506.9,1606.8 1508.1,1607.6 1509.4,1606.9 1511.0,1607.8 1512.7,1607.5 1514.1,1607.7 1515.6,1609.4 1517.2,1608.6 1518.5,1610.5 1520.0,1609.3 1521.5,1609.0 1523.2,1609.9 1524.9,1610.6 1526.6,1609.8 1528.4,1608.9 1530.2,1609.8 1531.9,1610.5 1533.7,1609.4 1535.4,1609.2 1537.1,1610.3 1538.6,1609.8 1540.1,1609.1 1541.5,1609.5 1542.8,1609.3 1544.2,1610.0 1545.9,1609.9 1547.6,1610.7 1548.9,1610.6 1550.2,1608.8 1551.3,1609.4 1552.5,1609.0 1553.8,1607.8 1555.2,1607.2 1556.5,1605.3 1557.9,1604.2 1559.2,1604.6 1560.7,1602.7 1562.2,1601.6 1563.7,1603.0 1565.2,1601.5 1566.6,1601.1 1567.7,1599.5 1568.6,1598.5 1569.3,1597.4 1569.9,1596.4 1570.4,1595.4 1570.8,1592.2 1571.2,1592.4 1571.6,1589.7 1572.0,1588.4 1572.4,1587.8 1572.8,1585.7 1573.2,1583.2 1573.5,1583.7 1573.8,1580.6 1574.2,1579.9 1574.8,1578.5 1575.3,1578.2 1576.2,1575.7 1577.1,1575.5 1578.0,1573.6 1578.9,1573.7 1580.1,1571.7 1581.3,1571.9 1582.4,1574.1 1583.2,1574.0 1584.0,1575.1 1584.9,1577.7 1585.5,1577.7 1586.1,1578.4 1586.8,1581.0 1587.3,1581.3 1587.8,1584.2 1588.1,1585.6 1588.5,1586.0 1588.8,1587.6 1589.2,1589.6 1589.6,1591.2 1590.0,1592.2 1590.3,1594.6 1590.7,1594.6 1591.1,1596.9 1591.5,1598.5 1591.9,1600.2 1592.3,1602.1 1592.7,1602.8 1593.1,1605.3 1593.5,1606.2 1594.1,1607.2 1594.7,1607.8 1595.6,1609.0 1596.5,1610.9 1597.8,1611.0 1599.0,1612.2 1600.5,1613.3 1601.7,1613.7 1603.2,1614.3 1604.3,1613.5 1605.8,1613.3 1607.1,1614.9 1608.4,1614.7 1609.8,1615.4 1611.3,1615.0 1612.8,1616.0 1614.4,1616.0 1616.0,1616.2 1617.6,1616.2 1619.3,1616.4 1620.9,1616.5 1622.6,1616.6 1624.2,1617.2 1625.9,1616.4 1627.4,1617.8 1629.0,1616.7 1630.5,1617.4 1632.0,1616.7 1633.5,1616.5 1635.0,1617.7 1636.5,1616.1 1638.0,1615.3 1639.5,1615.5 1641.0,1615.5 1642.5,1616.7 1644.1,1615.3 1645.6,1615.4 1647.1,1614.0 1648.6,1614.6 1650.1,1614.6 1651.6,1615.0 1653.1,1613.4 1654.6,1614.0 1656.1,1613.7 1657.7,1612.8 1659.2,1613.4 1660.9,1613.2 1662.5,1612.0 1664.1,1613.7 1665.7,1613.7 1667.4,1613.1 1669.0,1612.6 1670.5,1614.3 1672.1,1613.6 1673.6,1614.0 1675.1,1614.2 1676.5,1613.0 1677.8,1613.7 1679.1,1613.0 1680.3,1612.9 1682.0,1612.6 1683.2,1612.3 1684.8,1612.4 1686.3,1611.2 1687.6,1610.4 1688.8,1609.6 1689.9,1609.2 1691.1,1607.8 1692.2,1607.4 1693.5,1607.2 1695.0,1606.3 1696.5,1606.0 1698.0,1605.1 1699.4,1606.2 1700.9,1605.4 1702.4,1604.5 1703.9,1604.0 1705.5,1605.3 1706.9,1604.2 1708.4,1604.1 1709.9,1604.5 1711.4,1604.7 1713.0,1605.7 1714.6,1605.2 1716.1,1606.9 1717.6,1605.5 1719.1,1606.9 1720.5,1606.5 1721.9,1608.8 1723.2,1608.3 1724.5,1609.3 1725.9,1610.7 1727.2,1611.7 1728.6,1611.0 1730.0,1612.1 1731.4,1611.9 1732.9,1613.2 1734.4,1613.3 1735.9,1613.4 1737.5,1613.4 1739.2,1613.8 1740.8,1613.6 1742.4,1614.3 1743.9,1614.7 1745.4,1612.4 1746.8,1613.0 1748.0,1612.2 1749.2,1612.0 1750.4,1610.1 1751.5,1609.5 1752.5,1607.7 1753.5,1607.5 1754.5,1605.8 1755.4,1604.3 1756.3,1603.3 1757.2,1601.7 1758.1,1599.6 1759.0,1599.5 1759.8,1597.9 1760.6,1596.1 1761.3,1595.3 1762.1,1594.0 1762.8,1591.2 1763.6,1590.1 1764.3,1590.4 1765.6,1589.0 1766.6,1587.0 1767.8,1586.2 1769.4,1586.1 1771.0,1586.0 1772.2,1585.2" fill="none" stroke="#000" stroke-width="9.5" stroke-linejoin="round" stroke-linecap="round"/>
<polyline points="159.0,1359.0 160.3,1358.1 161.6,1358.1 163.1,1359.3 164.8,1358.2 166.6,1358.4 167.8,1358.6 169.0,1358.5 170.3,1357.5 171.6,1357.4 172.9,1356.6 174.3,1357.7 175.7,1356.6 177.2,1355.1 178.7,1355.3 180.3,1355.3 181.9,1354.6 183.4,1355.0 184.8,1354.2 186.2,1352.6 187.6,1352.4 189.1,1351.2 190.6,1351.5 192.1,1350.9 193.7,1351.9 195.2,1349.9 196.7,1348.0 198.2,1348.4 199.6,1348.5 201.0,1347.2 202.6,1347.1 204.2,1347.0 205.8,1347.1 207.4,1346.5 209.0,1345.7 210.5,1346.5 212.0,1345.4 213.5,1345.2 214.9,1344.5 216.2,1344.7 217.6,1345.3 218.8,1343.8 220.5,1344.7 222.0,1345.1 223.4,1344.4 224.8,1344.7 226.1,1343.6 227.4,1344.6 228.7,1343.8 229.9,1342.6 231.0,1340.5 232.1,1340.0 233.3,1340.1 234.6,1339.4 235.7,1337.6 236.7,1337.3 237.9,1335.2 239.1,1334.5 240.2,1333.6 241.4,1332.7 242.5,1330.4 243.5,1330.7 244.5,1329.7 245.2,1326.9 245.8,1325.5 246.3,1325.1 246.8,1323.0 247.2,1320.4 247.5,1320.8 247.8,1318.8 248.1,1316.9 248.4,1317.0 248.7,1314.4 249.0,1312.5 249.5,1311.4 249.9,1309.4 250.3,1308.3 250.7,1307.7 251.1,1305.8 251.5,1304.3 251.7,1304.4 252.0,1302.5 252.2,1301.3 252.4,1299.8 252.7,1298.5 252.9,1297.6 253.1,1295.2 253.4,1294.8 253.6,1291.6 253.8,1290.4 254.0,1288.1 254.3,1287.1 254.5,1286.0 254.7,1285.0 254.8,1282.1 255.0,1281.0 255.2,1279.3 255.3,1277.6 255.4,1275.8 255.5,1275.0 255.7,1272.5 255.8,1272.1 255.9,1270.5 256.0,1268.6 256.1,1266.9 256.1,1265.2 256.2,1265.6 256.3,1262.2 256.4,1262.4 256.5,1260.4 256.6,1258.3 256.7,1256.4 256.8,1256.2 256.8,1255.2 256.9,1252.2 257.0,1251.1 257.1,1250.5 257.2,1248.6 257.2,1248.1 257.3,1245.1 257.4,1244.2 257.5,1241.6 257.5,1241.9 257.6,1238.6 257.7,1236.3 257.7,1236.1 257.8,1234.7 257.8,1234.4 257.8,1231.5 257.9,1230.2 257.9,1229.0 258.0,1228.0 258.0,1225.4 258.1,1224.5 258.1,1222.6 258.2,1220.5 258.2,1219.2 258.3,1217.7 258.3,1215.6 258.4,1215.5 258.4,1212.5 258.5,1212.7 258.6,1210.8 258.7,1208.4 258.8,1206.3 258.9,1204.9 259.0,1203.6 259.1,1202.1 259.2,1200.3 259.4,1199.2 259.5,1196.8 259.6,1195.9 259.7,1193.6 259.9,1193.5 260.2,1190.9 260.5,1188.9 261.0,1188.4 262.0,1187.3 262.9,1186.1 263.5,1190.0 263.8,1190.4 264.1,1193.5 264.3,1195.7 264.6,1195.3 264.8,1197.2 265.1,1198.7 265.3,1200.8 265.5,1202.2 265.7,1203.8 265.8,1203.7 266.0,1206.8 266.1,1206.6 266.3,1208.7 266.4,1210.7 266.5,1212.0 266.6,1212.5 266.8,1214.3 266.9,1216.1 267.0,1218.0 267.1,1220.3 267.3,1220.5 267.4,1223.1 267.5,1224.8 267.6,1226.2 267.8,1227.6 267.9,1229.6 268.0,1230.3 268.1,1231.8 268.2,1232.8 268.4,1235.3 268.6,1234.7 268.7,1238.1 268.9,1238.7 269.0,1240.1 269.2,1241.0 269.4,1241.8 269.6,1244.0 269.9,1245.2 270.3,1247.5 270.6,1247.6 270.9,1250.8 271.2,1251.5 271.6,1252.6 272.0,1253.7 272.3,1254.9 272.9,1256.2 273.6,1257.8 274.5,1257.3 274.8,1256.0 275.0,1253.6 275.2,1252.9 275.4,1251.0 275.6,1249.9 275.8,1249.1 275.9,1247.2 276.0,1245.4 276.1,1243.3 276.2,1242.2 276.3,1240.8 276.4,1241.0 276.5,1238.9 276.7,1237.7 276.9,1235.6 277.1,1234.5 277.3,1233.7 277.4,1230.8 277.6,1229.2 277.8,1227.2 278.0,1226.4 278.2,1223.5 278.4,1221.8 278.6,1219.9 278.8,1218.3 278.9,1218.0 279.1,1217.9 279.3,1214.5 279.5,1214.4 280.1,1211.9 281.2,1211.7 281.6,1213.4 282.0,1214.9 282.3,1215.8 282.7,1218.7 283.0,1217.6 283.3,1220.3 283.6,1221.6 283.9,1222.6 284.2,1224.7 284.4,1226.4 284.6,1227.2 284.8,1228.6 285.0,1230.2 285.2,1230.0 285.4,1233.6 285.5,1235.3 285.6,1235.8 285.8,1237.2 285.9,1237.1 286.0,1239.3 286.1,1240.4 286.2,1242.1 286.3,1244.6 286.5,1245.1 286.6,1247.1 286.7,1247.7 286.8,1250.4 286.9,1252.1 287.0,1253.3 287.1,1254.9 287.2,1258.1 287.4,1257.9 287.5,1259.5 287.6,1261.2 287.7,1263.9 287.8,1265.9 287.9,1266.3 288.0,1267.1 288.2,1269.0 288.3,1271.6 288.5,1272.0 288.6,1275.1 288.8,1276.7 288.9,1277.5 289.1,1279.5 289.2,1281.1 289.4,1283.1 289.5,1283.1 289.7,1285.9 289.8,1286.4 290.0,1287.6 290.1,1289.5 290.3,1290.7 290.4,1291.5 290.6,1292.4 290.7,1294.0 291.0,1297.2 291.1,1298.8 291.3,1299.2 291.5,1301.2 291.7,1301.7 292.0,1303.4 292.2,1305.0 292.4,1305.5 292.7,1306.9 293.0,1308.8 293.4,1309.9 293.7,1310.9 294.2,1313.3 294.7,1314.5 295.2,1316.8 295.8,1317.8 296.3,1319.0 296.9,1320.7 297.6,1321.8 298.3,1322.6 299.0,1323.8 299.8,1325.4 301.1,1326.5 302.4,1327.8 303.9,1326.7 305.4,1327.9 307.0,1327.8 308.2,1327.9 309.4,1327.0 310.6,1326.1 311.9,1326.0 313.1,1324.6 314.4,1322.6 315.7,1323.0 316.9,1321.8 318.1,1319.9 319.4,1319.8 320.7,1317.8 321.9,1317.9 323.2,1316.1 324.4,1314.8 325.8,1314.4 327.2,1313.7 328.7,1314.1 330.0,1314.3 331.4,1314.7 332.9,1315.0 334.4,1313.8 336.0,1316.9 337.5,1316.4 339.0,1318.4 340.5,1319.4 341.8,1319.2 343.0,1318.8 344.3,1318.4 345.5,1317.6 346.6,1316.3 347.6,1314.9 348.6,1313.4 349.5,1313.3 350.5,1311.3 351.5,1310.9 352.8,1309.2 354.3,1308.6 355.8,1307.9 357.2,1307.7 358.5,1307.4 359.7,1306.4 360.7,1304.9 361.4,1303.5 361.9,1303.6 362.3,1301.3 363.0,1299.8 363.7,1299.5 364.3,1298.1 365.0,1296.5 365.7,1294.6 366.4,1294.8 367.2,1292.2 368.0,1290.8 368.7,1288.8 369.4,1286.6 370.1,1285.1 370.8,1284.7 371.4,1283.3 371.9,1281.6 372.5,1279.7 373.0,1278.2 373.5,1277.6 374.0,1275.6 374.5,1275.6 375.0,1274.4 375.5,1274.0 375.9,1271.3 376.4,1268.8 376.8,1267.0 377.2,1264.1 377.5,1264.5 377.9,1263.3 378.2,1262.6 378.5,1260.9 378.8,1259.4 379.1,1257.6 379.4,1256.4 379.6,1255.3 379.9,1252.2 380.2,1251.0 380.5,1248.9 380.8,1249.2 381.1,1247.5 381.5,1245.8 381.8,1243.2 382.1,1242.6 382.5,1240.7 383.0,1239.3 383.4,1237.6 383.9,1236.5 384.3,1234.4 384.8,1233.7 385.2,1231.8 385.7,1230.1 386.1,1228.8 386.6,1227.2 387.0,1226.6 387.5,1224.6 387.9,1223.6 388.3,1221.7 388.9,1219.5 389.3,1219.4 389.8,1216.9 390.3,1216.6 390.7,1215.1 391.2,1212.5 391.7,1211.5 392.1,1210.3 392.7,1208.6 393.1,1206.9 393.6,1206.7 394.0,1204.7 394.4,1203.6 394.9,1201.6 395.4,1200.6 395.8,1198.4 396.3,1197.3 396.8,1196.1 397.2,1194.2 397.7,1192.4 398.1,1190.6 398.5,1189.9 398.9,1188.6 399.3,1186.8 399.8,1185.0 400.2,1184.4 400.6,1184.3 401.0,1181.4 401.4,1180.5 401.7,1179.2 402.1,1176.0 402.4,1176.0 402.6,1174.3 402.8,1174.3 403.0,1171.8 403.2,1170.0 403.3,1169.1 403.4,1168.1 403.5,1166.3 403.6,1165.3 403.7,1163.1 403.8,1162.4 403.8,1161.5 403.9,1160.7 404.0,1158.4 404.0,1156.6 404.1,1155.6 404.2,1153.9 404.3,1152.7 404.3,1150.7 404.4,1148.3 404.5,1146.9 404.6,1145.2 404.7,1143.6 404.9,1141.8 405.0,1139.5 405.1,1137.4 405.2,1136.9 405.4,1134.7 405.5,1134.6 405.6,1133.2 405.8,1130.8 405.9,1130.8 406.0,1129.5 406.2,1127.7 406.3,1127.2 406.5,1125.9 406.7,1122.6 406.8,1122.5 407.0,1120.7 407.1,1119.2 407.3,1118.0 407.5,1115.4 407.6,1114.0 407.8,1112.3 407.9,1110.7 408.1,1109.5 408.3,1107.1 408.4,1105.7 408.6,1104.9 408.7,1102.9 408.9,1101.4 409.0,1098.4 409.2,1097.8 409.3,1096.6 409.4,1095.5 409.5,1093.8 409.6,1093.3 409.7,1091.3 409.9,1089.8 410.0,1088.4 410.1,1087.3 410.2,1085.1 410.3,1084.6 410.5,1082.7 410.6,1080.9 410.7,1079.3 410.8,1078.1 410.9,1076.8 411.1,1075.2 411.2,1073.3 411.3,1072.1 411.4,1070.0 411.5,1069.2 411.7,1066.8 411.8,1064.0 411.9,1064.5 412.0,1062.2 412.1,1059.9 412.2,1058.9 412.4,1057.0 412.5,1057.2 412.6,1054.7 412.7,1052.0 412.8,1051.7 412.9,1049.7 413.0,1049.6 413.1,1046.3 413.2,1044.1 413.3,1044.0 413.5,1042.1 413.6,1040.5 413.7,1037.9 413.8,1037.9 413.9,1037.1 414.0,1033.3 414.1,1033.6 414.2,1031.0 414.3,1031.2 414.4,1028.4 414.5,1026.5 414.6,1025.7 414.7,1023.8 414.8,1021.6 414.9,1020.8 415.0,1018.5 415.1,1016.3 415.2,1017.0 415.3,1014.1 415.4,1012.4 415.5,1011.5 415.6,1008.9 415.7,1007.6 415.8,1006.6 415.9,1005.2 416.0,1004.1 416.0,1003.4 416.1,1001.0 416.2,1000.3 416.3,999.0 416.4,996.7 416.5,996.1 416.6,993.7 416.7,993.2 416.9,991.1 417.0,989.3 417.1,986.9 417.2,986.2 417.3,984.2 417.5,983.6 417.6,981.6 417.7,979.8 417.8,979.4 417.9,977.9 418.0,975.7 418.1,975.3 418.2,973.1 418.3,971.7 418.5,970.5 418.6,968.6 418.7,967.3 418.8,966.0 418.9,965.6 419.0,964.0 419.1,961.4 419.2,961.0 419.3,958.6 419.4,957.5 419.5,956.5 419.6,954.8 419.6,954.8 419.7,952.2 419.8,950.1 419.9,950.4 420.0,948.1 420.1,946.9 420.1,944.0 420.2,945.1 420.3,943.7 420.4,942.3 420.5,941.1 420.5,940.1 420.6,937.6 420.7,936.7 420.8,934.2 420.9,932.8 421.0,932.0 421.1,929.8 421.2,927.0 421.2,926.8 421.3,925.2 421.4,923.5 421.4,922.8 421.5,920.9 421.6,918.8 421.6,917.6 421.7,917.7 421.8,914.6 421.8,914.4 421.9,913.4 421.9,912.1 422.0,909.7 422.1,908.9 422.1,907.8 422.2,906.8 422.3,904.6 422.3,902.9 422.4,902.7 422.5,901.3 422.5,899.4 422.6,897.4 422.7,896.5 422.7,894.8 422.8,893.7 422.9,890.9 422.9,890.2 423.0,888.4 423.1,886.3 423.1,885.5 423.2,883.8 423.3,881.9 423.3,880.8 423.4,878.1 423.5,877.3 423.5,876.0 423.6,874.3 423.7,873.1 423.7,870.1 423.8,868.3 423.9,867.7 423.9,866.2 424.0,865.6 424.1,863.1 424.1,860.6 424.2,860.0 424.3,857.4 424.3,855.4 424.4,856.3 424.5,853.3 424.5,852.0 424.6,850.3 424.6,849.5 424.7,847.1 424.7,846.1 424.8,843.3 424.8,841.5 424.9,841.8 425.0,840.3 425.0,838.3 425.1,836.6 425.1,835.0 425.2,832.9 425.2,832.6 425.2,830.5 425.3,828.9 425.3,827.2 425.4,826.0 425.4,824.1 425.5,822.7 425.5,820.0 425.5,819.4 425.6,818.9 425.6,815.7 425.6,814.3 425.7,813.4 425.7,811.9 425.7,810.1 425.8,807.2 425.8,806.9 425.8,804.4 425.9,803.0 425.9,802.3 425.9,800.3 426.0,799.4 426.0,799.3 426.0,796.4 426.1,794.8 426.1,792.3 426.1,791.0 426.1,789.2 426.2,788.1 426.2,786.3 426.2,785.0 426.3,783.8 426.3,781.9 426.3,780.2 426.4,778.8 426.4,778.5 426.4,776.8 426.5,776.0 426.5,774.6 426.5,772.4 426.6,771.6 426.6,769.0 426.7,769.8 426.7,767.8 426.7,765.6 426.8,763.7 426.8,763.1 426.9,760.0 427.0,759.0 427.0,758.2 427.1,756.2 427.1,754.2 427.2,753.5 427.3,750.7 427.3,749.9 427.4,747.9 427.4,746.2 427.5,745.4 427.6,743.1 427.6,743.3 427.7,740.3 427.8,740.4 427.8,737.1 427.9,736.7 428.0,734.2 428.0,732.6 428.1,732.1 428.2,731.0 428.2,728.4 428.3,728.4 428.4,725.8 428.5,725.0 428.5,723.7 428.6,722.4 428.7,719.5 428.8,720.2 428.8,718.1 428.9,716.1 429.0,714.3 429.1,712.4 429.2,711.1 429.3,710.8 429.3,708.8 429.4,706.8 429.5,705.7 429.6,705.4 429.7,702.8 429.8,701.1 429.9,700.8 430.0,698.8 430.1,697.0 430.2,695.1 430.3,693.1 430.4,691.8 430.5,690.7 430.6,689.4 430.7,688.2 430.8,686.8 430.9,685.1 431.0,683.6 431.2,681.4 431.3,679.2 431.4,678.7 431.5,676.9 431.6,675.6 431.7,674.3 431.8,672.3 431.9,670.8 432.1,669.9 432.2,668.6 432.3,666.6 432.4,665.8 432.5,663.9 432.6,661.9 432.7,661.0 432.8,660.6 433.0,657.6 433.1,657.2 433.2,655.8 433.3,654.4 433.4,651.5 433.5,651.7 433.6,649.1 433.7,647.4 433.8,645.9 434.0,644.9 434.1,643.1 434.2,641.5 434.3,640.9 434.4,638.3 434.5,636.6 434.6,636.3 434.8,634.7 434.9,633.5 435.0,630.8 435.1,630.6 435.2,628.8 435.3,628.1 435.5,624.8 435.6,624.2 435.7,622.4 435.8,620.2 435.9,619.2 436.0,618.8 436.1,616.4 436.3,614.7 436.4,614.2 436.5,612.7 436.6,611.2 436.7,608.6 436.8,607.5 436.9,606.6 437.0,604.1 437.1,602.5 437.2,601.8 437.3,600.7 437.4,597.5 437.5,595.0 437.6,594.2 437.6,593.0 437.7,592.1 437.8,591.1 437.8,589.2 437.9,587.4 438.0,586.5 438.1,584.3 438.1,583.4 438.2,581.5 438.3,582.0 438.3,579.3 438.4,576.8 438.5,575.2 438.5,573.9 438.6,571.7 438.7,570.7 438.7,569.1 438.8,568.5 438.8,566.2 438.9,564.4 438.9,562.5 439.0,561.0 439.1,560.2 439.1,558.5 439.2,557.8 439.2,555.2 439.3,554.6 439.3,552.6 439.4,550.9 439.5,548.2 439.5,547.1 439.6,546.8 439.6,545.7 439.7,543.5 439.7,542.4 439.8,540.2 439.8,538.8 439.9,537.1 439.9,536.7 440.0,534.9 440.0,533.2 440.1,531.7 440.1,530.8 440.2,529.0 440.2,526.6 440.3,526.4 440.3,523.9 440.4,522.0 440.5,521.2 440.5,519.3 440.6,516.9 440.6,515.6 440.6,513.0 440.7,511.6 440.7,508.9 440.8,509.4 440.8,505.9 440.9,505.8 440.9,503.3 441.0,501.6 441.0,500.5 441.0,499.2 441.1,497.9 441.1,497.1 441.2,494.8 441.2,493.6 441.3,491.3 441.3,490.7 441.4,489.0 441.4,487.2 441.4,486.2 441.5,484.9 441.5,483.8 441.6,482.7 441.7,480.6 441.7,479.0 441.8,478.4 441.9,475.2 442.0,474.2 442.1,474.0 442.2,469.9 442.3,469.8 442.4,469.4 442.6,466.2 442.7,467.2 442.9,462.7 443.0,463.8 443.3,462.4 443.5,460.7 443.8,458.6 444.5,456.9 445.5,455.5 446.5,457.6 447.1,457.6 447.9,459.1 448.4,461.1 448.8,461.3 449.0,463.1 449.1,465.1 449.3,466.4 449.4,469.3 449.5,470.2 449.6,470.3 449.6,472.6 449.7,473.6 449.7,475.2 449.8,476.9 449.8,477.7 449.8,480.0 449.9,480.4 449.9,482.8 449.9,483.6 450.0,485.6 450.0,486.3 450.0,487.9 450.1,489.0 450.1,491.7 450.1,493.5 450.1,495.8 450.2,497.0 450.2,498.0 450.2,499.4 450.2,501.5 450.3,502.9 450.3,505.5 450.3,506.9 450.4,507.5 450.4,509.3 450.4,512.3 450.5,513.3 450.5,514.7 450.5,517.2 450.6,517.9 450.6,519.6 450.7,521.1 450.7,521.8 450.8,525.1 450.8,525.4 450.9,527.3 450.9,528.6 451.0,531.0 451.0,532.0 451.1,533.6 451.2,534.1 451.3,536.5 451.4,537.0 451.4,539.4 451.5,540.8 451.6,541.9 451.7,544.4 451.8,544.7 451.9,546.0 452.0,546.9 452.1,548.0 452.2,549.9 452.3,551.2 452.4,550.9 452.5,553.6 452.7,554.5 452.8,556.0 452.9,557.0 453.0,557.3 453.1,558.7 453.2,561.9 453.3,562.4 453.4,562.9 453.5,565.5 453.6,566.6 453.7,567.4 453.8,568.8 453.9,571.0 454.0,573.3 454.0,574.4 454.1,575.6 454.2,577.2 454.2,578.7 454.3,578.5 454.4,581.0 454.4,582.2 454.5,583.5 454.5,585.4 454.6,587.2 454.6,588.6 454.7,589.5 454.7,591.3 454.8,594.0 454.8,593.4 454.8,594.2 454.9,596.7 454.9,598.2 454.9,599.4 455.0,599.8 455.0,602.4 455.0,602.6 455.1,603.8 455.1,605.5 455.2,607.2 455.2,609.1 455.2,610.4 455.3,611.5 455.3,613.5 455.3,614.4 455.4,616.4 455.4,616.5 455.4,617.9 455.5,620.8 455.5,621.0 455.5,623.1 455.6,624.8 455.6,626.1 455.6,627.6 455.7,630.3 455.7,629.5 455.7,633.1 455.8,635.5 455.8,635.7 455.8,637.3 455.9,639.3 455.9,641.6 455.9,641.4 455.9,643.8 456.0,645.2 456.0,647.3 456.0,648.6 456.1,650.6 456.1,651.5 456.1,653.5 456.2,654.6 456.2,656.3 456.2,658.2 456.3,659.9 456.3,660.9 456.3,664.2 456.3,664.8 456.4,665.6 456.4,668.8 456.4,669.3 456.5,671.7 456.5,673.0 456.5,674.8 456.6,676.3 456.6,677.5 456.6,679.5 456.6,682.3 456.7,681.4 456.7,684.3 456.7,686.2 456.8,686.9 456.8,688.3 456.8,692.0 456.9,692.0 456.9,695.1 456.9,695.7 456.9,697.0 457.0,698.7 457.0,700.4 457.0,702.2 457.1,703.2 457.1,704.5 457.1,706.0 457.1,708.1 457.2,709.3 457.2,709.6 457.2,711.3 457.2,713.4 457.3,714.3 457.3,715.9 457.3,717.0 457.4,718.8 457.4,720.7 457.4,722.5 457.4,723.4 457.5,726.1 457.5,726.2 457.5,729.6 457.5,729.8 457.6,730.9 457.6,731.8 457.6,731.9 457.6,734.9 457.7,736.6 457.7,739.1 457.7,738.5 457.7,742.0 457.8,742.1 457.8,744.2 457.8,743.7 457.8,746.8 457.9,747.9 457.9,750.0 457.9,751.1 457.9,751.9 458.0,754.6 458.0,755.9 458.0,757.3 458.0,759.0 458.1,760.6 458.1,761.4 458.1,762.1 458.1,763.5 458.2,766.7 458.2,767.8 458.2,768.9 458.2,770.1 458.2,771.8 458.3,773.3 458.3,774.6 458.3,775.9 458.3,779.1 458.4,779.5 458.4,780.5 458.4,781.6 458.4,783.5 458.5,785.8 458.5,787.4 458.5,788.3 458.5,790.0 458.6,791.4 458.6,792.4 458.6,795.4 458.6,796.4 458.7,799.2 458.7,798.9 458.7,800.8 458.7,803.0 458.8,803.9 458.8,804.8 458.8,806.6 458.8,808.8 458.9,810.6 458.9,811.9 458.9,814.1 458.9,815.7 459.0,817.0 459.0,818.4 459.0,819.8 459.0,821.7 459.0,823.4 459.1,824.3 459.1,826.0 459.1,827.0 459.1,827.8 459.1,829.5 459.2,832.1 459.2,833.4 459.2,835.6 459.2,836.2 459.3,838.2 459.3,840.0 459.3,841.4 459.3,842.0 459.3,843.9 459.4,845.6 459.4,846.6 459.4,849.0 459.4,851.0 459.4,851.7 459.5,854.8 459.5,855.1 459.5,856.8 459.5,858.4 459.6,859.8 459.6,862.1 459.6,863.5 459.6,866.1 459.6,867.2 459.7,868.8 459.7,870.0 459.7,871.0 459.7,873.4 459.8,874.7 459.8,877.4 459.8,878.5 459.8,881.2 459.8,882.3 459.9,884.0 459.9,885.3 459.9,887.0 459.9,888.9 459.9,890.8 460.0,891.4 460.0,893.8 460.0,896.7 460.0,896.8 460.1,898.3 460.1,899.7 460.1,900.9 460.1,904.1 460.1,905.0 460.2,906.8 460.2,909.3 460.2,911.3 460.2,910.9 460.2,913.6 460.3,914.9 460.3,916.4 460.3,918.0 460.3,919.2 460.4,921.7 460.4,922.6 460.4,924.0 460.4,926.0 460.4,927.3 460.5,928.5 460.5,929.9 460.5,932.2 460.5,932.9 460.5,933.9 460.6,934.9 460.6,936.6 460.6,937.5 460.6,939.6 460.6,941.0 460.7,940.9 460.7,943.5 460.7,945.1 460.7,946.1 460.8,946.7 460.8,949.3 460.8,949.3 460.8,950.6 460.9,952.2 460.9,954.3 460.9,956.4 460.9,958.0 461.0,958.8 461.0,959.3 461.0,961.6 461.1,963.3 461.1,965.5 461.2,966.2 461.2,968.8 461.3,970.6 461.3,971.5 461.3,973.2 461.4,973.6 461.4,974.9 461.5,977.0 461.6,979.4 461.6,980.6 461.7,981.3 461.8,983.7 461.9,984.1 462.0,986.4 462.1,987.3 462.2,988.2 462.3,990.2 462.4,990.6 462.4,992.0 462.5,992.8 462.6,995.2 462.6,996.4 462.7,998.0 462.8,999.5 462.8,1001.9 462.9,1002.1 462.9,1003.3 463.0,1006.0 463.0,1007.6 463.1,1008.5 463.1,1008.8 463.1,1010.7 463.2,1012.6 463.2,1013.5 463.3,1015.7 463.3,1015.3 463.3,1017.8 463.4,1018.4 463.4,1021.0 463.4,1021.5 463.5,1023.6 463.5,1024.0 463.5,1025.0 463.6,1026.7 463.6,1028.5 463.6,1029.7 463.7,1032.6 463.7,1034.2 463.7,1035.1 463.8,1035.9 463.8,1038.0 463.9,1039.3 463.9,1042.1 463.9,1043.1 464.0,1044.8 464.0,1045.9 464.0,1046.5 464.1,1048.9 464.1,1050.3 464.2,1052.9 464.2,1054.4 464.2,1055.5 464.3,1057.4 464.3,1060.2 464.3,1060.4 464.4,1062.0 464.4,1064.1 464.5,1065.5 464.5,1067.3 464.5,1069.5 464.6,1071.9 464.6,1071.4 464.6,1074.1 464.7,1075.8 464.7,1077.3 464.8,1078.9 464.8,1080.4 464.8,1082.8 464.9,1083.5 464.9,1085.2 465.0,1086.9 465.0,1088.5 465.0,1089.8 465.1,1092.0 465.1,1092.9 465.2,1094.5 465.2,1095.9 465.2,1096.7 465.3,1098.3 465.3,1099.5 465.4,1101.7 465.4,1102.5 465.4,1103.6 465.5,1105.7 465.5,1107.5 465.6,1107.9 465.7,1111.7 465.7,1112.5 465.8,1114.1 465.8,1116.5 465.9,1117.7 465.9,1119.0 466.0,1122.3 466.0,1122.1 466.1,1124.3 466.2,1126.5 466.2,1127.0 466.3,1129.3 466.3,1131.2 466.4,1134.0 466.4,1133.6 466.5,1135.7 466.5,1137.7 466.6,1138.9 466.7,1139.7 466.7,1142.2 466.8,1143.6 466.8,1145.3 466.9,1147.2 467.0,1148.7 467.0,1149.8 467.1,1151.2 467.1,1151.8 467.2,1153.8 467.3,1155.5 467.3,1156.5 467.4,1158.3 467.4,1159.1 467.5,1161.9 467.6,1163.6 467.6,1163.5 467.7,1165.3 467.8,1166.3 467.8,1168.5 467.9,1169.3 468.0,1170.4 468.1,1171.5 468.1,1172.9 468.2,1173.5 468.3,1175.8 468.3,1176.2 468.4,1178.1 468.5,1179.1 468.6,1181.0 468.7,1181.7 468.8,1183.6 468.9,1183.7 469.0,1185.9 469.0,1186.6 469.1,1188.1 469.2,1189.3 469.3,1191.0 469.5,1191.0 469.6,1194.1 469.8,1194.7 469.9,1198.0 470.1,1197.7 470.3,1199.9 470.4,1201.0 470.6,1204.5 470.7,1204.3 470.9,1206.6 471.1,1207.6 471.2,1208.2 471.4,1210.4 471.6,1212.3 471.7,1213.1 471.9,1215.0 472.1,1215.5 472.3,1217.3 472.5,1218.5 472.7,1220.5 472.9,1222.8 473.1,1223.1 473.4,1224.6 473.7,1225.6 474.0,1226.9 474.2,1229.5 474.7,1229.6 475.1,1231.2 475.5,1233.0 475.9,1233.9 476.6,1236.7 477.3,1235.4 478.0,1238.2 478.8,1239.5 479.7,1239.4 481.0,1240.8 482.5,1242.1 484.0,1243.2 485.5,1241.6 486.7,1240.8 487.8,1241.6 488.8,1241.0 490.0,1238.7 491.1,1236.3 492.1,1237.1 493.2,1234.8 494.2,1234.4 495.2,1232.6 496.2,1231.1 497.1,1229.8 498.0,1229.8 498.9,1228.5 499.8,1225.2 500.7,1224.8 501.7,1225.2 502.8,1222.6 503.9,1220.7 505.0,1220.3 506.0,1219.1 507.0,1218.3 508.2,1217.5 509.7,1217.9 511.1,1218.8 512.0,1220.2 513.2,1220.4 514.3,1221.8 515.1,1223.4 515.7,1225.8 516.1,1226.5 516.4,1227.7 516.7,1229.3 517.0,1230.6 517.3,1232.4 517.5,1233.6 517.8,1236.0 518.1,1237.3 518.4,1238.2 518.7,1239.6 518.9,1242.1 519.2,1243.5 519.5,1244.8 519.8,1245.6 520.0,1246.9 520.3,1249.7 520.6,1251.5 520.9,1253.2 521.2,1253.6 521.5,1256.6 521.8,1257.3 522.1,1259.5 522.3,1261.1 522.6,1261.9 522.9,1263.6 523.2,1264.2 523.5,1266.3 523.8,1267.1 524.2,1269.7 524.5,1270.7 525.0,1272.9 525.5,1273.8 526.0,1274.3 526.7,1276.4 527.5,1277.3 528.2,1279.1 529.0,1279.9 529.8,1280.1 530.7,1281.9 531.7,1283.1 532.9,1283.4 534.3,1284.4 535.6,1285.1 537.1,1284.0 538.4,1284.2 539.7,1283.2 541.2,1284.6 542.8,1284.5 544.4,1283.5 546.1,1285.1 547.8,1285.4 549.5,1284.6 551.2,1284.9 552.9,1284.5 554.5,1285.5 556.1,1284.1 557.6,1284.8 559.1,1286.0 560.6,1284.7 562.0,1284.8 563.5,1284.2 565.0,1283.4 566.5,1283.9 568.0,1283.9 569.5,1282.8 571.0,1283.4 572.4,1283.6 573.9,1283.3 575.4,1281.4 576.9,1281.6 578.4,1281.0 579.9,1282.3 581.4,1281.7 582.9,1281.5 584.4,1280.2 585.9,1279.7 587.4,1280.2 588.8,1279.9 590.3,1279.0 591.8,1279.3 593.3,1279.4 594.8,1278.9 596.3,1278.0 597.8,1277.3 599.3,1278.3 600.8,1278.6 602.3,1278.5 603.8,1278.6 605.3,1278.6 606.7,1279.7 608.2,1279.6 609.7,1280.0 611.2,1279.7 612.7,1280.2 614.2,1281.0 615.6,1280.6 617.1,1280.7 618.6,1281.5 620.1,1282.7 621.6,1282.2 623.1,1283.2 624.7,1282.4 626.2,1282.5 627.7,1282.0 629.2,1282.7 630.7,1284.0 632.3,1283.5 633.8,1283.8 635.3,1283.9 636.8,1283.4 638.4,1283.3 639.9,1283.3 641.4,1283.5 642.8,1283.1 644.3,1282.8 645.7,1282.2 647.1,1281.2 648.5,1281.0 649.9,1280.1 651.4,1280.7 652.8,1278.2 654.2,1278.7 655.6,1279.6 657.0,1277.4 658.5,1276.3 659.9,1276.3 661.3,1276.5 662.7,1275.1 664.2,1275.0 665.6,1274.2 667.1,1273.3 668.6,1274.9 670.1,1272.5 671.6,1271.5 673.1,1271.0 674.6,1271.0 676.1,1270.5 677.6,1270.1 679.0,1269.2 680.3,1267.8 681.7,1268.4 682.9,1267.4 684.1,1267.0 685.7,1265.6 686.8,1265.6 688.4,1264.6 689.8,1264.1 691.1,1262.4 692.3,1262.6 693.6,1262.0 694.9,1260.9 696.3,1261.0 697.7,1260.9 699.0,1262.3 700.2,1260.8 701.6,1262.8 702.9,1262.9 704.2,1264.5 705.6,1266.3 706.9,1266.4 708.3,1267.8 709.6,1268.1 711.0,1270.5 712.3,1270.5 713.7,1271.3 714.8,1270.4 716.2,1271.2 717.7,1273.1 718.8,1272.7 720.2,1273.1 721.8,1273.7 723.1,1272.9 724.6,1274.3 726.3,1274.0 727.5,1274.3 729.0,1273.7 730.2,1274.4 731.5,1273.7 732.9,1274.7 734.3,1274.8 735.8,1274.7 737.3,1274.5 738.9,1274.5 740.5,1272.5 742.1,1274.6 743.8,1273.9 745.5,1274.1 747.2,1273.9 749.0,1273.1 750.7,1273.6 752.4,1274.3 754.1,1274.7 755.8,1273.4 757.4,1273.1 759.1,1274.5 760.6,1273.0 762.2,1274.7 763.7,1273.4 765.1,1272.8 766.5,1273.8 767.8,1274.2 769.0,1272.2 770.5,1273.9 771.9,1272.6 773.3,1273.5 774.5,1272.2 776.2,1271.2 777.8,1272.1 779.3,1272.0 780.7,1272.4 782.0,1271.8 783.3,1270.8 784.6,1269.9 785.8,1269.5 787.1,1269.3 788.4,1268.8 789.8,1268.9 791.2,1267.5 792.7,1269.1 794.2,1268.9 795.8,1270.5 797.3,1269.5 798.8,1268.9 800.3,1269.7 801.9,1268.8 803.4,1269.3 804.9,1268.8 806.4,1271.0 807.9,1270.7 809.5,1269.9 811.0,1270.7 812.5,1271.6 814.0,1271.5 815.6,1271.8 817.3,1271.4 818.9,1271.9 820.6,1272.7 822.3,1273.6 823.9,1273.0 825.6,1273.2 827.1,1274.9 828.6,1274.0 830.0,1275.4 831.3,1275.1 832.8,1275.6 834.5,1275.9 835.7,1274.8 836.7,1273.6 837.2,1271.0 837.5,1269.5 837.8,1268.8 838.5,1267.7 838.9,1266.2 839.2,1265.5 839.7,1262.7 840.8,1263.2 841.4,1265.2 841.7,1265.8 842.1,1267.1 842.4,1267.7 842.8,1270.1 843.2,1270.4 842.9,1273.0 842.6,1273.4 843.1,1276.3 844.3,1275.8 846.4,1277.5 847.6,1276.2 849.1,1277.1 850.3,1278.1 851.6,1277.0 853.0,1277.6 854.5,1277.3 856.1,1276.2 857.7,1277.8 859.3,1277.9 861.1,1277.0 862.8,1278.0 864.5,1277.1 866.3,1277.0 868.1,1277.5 869.8,1277.1 871.6,1278.8 873.3,1276.5 874.9,1277.8 876.5,1277.9 878.1,1276.0 879.5,1276.1 880.9,1277.4 882.2,1276.7 883.9,1277.1 885.1,1277.5 886.8,1276.4 888.4,1275.7 889.8,1274.5 891.2,1275.9 892.5,1274.9 893.8,1275.4 895.0,1275.1 896.3,1273.8 897.7,1275.4 899.1,1274.9 900.6,1274.6 902.2,1273.3 904.0,1273.8 905.3,1273.7 906.6,1273.9 907.9,1273.5 909.3,1274.6 910.8,1274.6 912.2,1274.9 913.7,1274.5 915.2,1275.8 916.8,1275.4 918.3,1273.9 919.9,1275.4 921.4,1275.9 923.0,1276.8 924.6,1276.3 926.2,1276.6 927.8,1276.5 929.3,1277.6 930.9,1277.1 932.4,1277.2 934.0,1277.3 935.5,1278.3 937.0,1277.8 938.5,1277.2 940.0,1278.7 941.5,1278.1 943.0,1278.8 944.5,1278.9 946.0,1279.5 947.5,1279.5 949.0,1278.6 950.5,1279.0 952.0,1278.4 953.5,1280.3 955.0,1279.6 956.5,1280.3 958.0,1279.4 959.5,1278.4 961.0,1280.7 962.5,1280.0 964.0,1280.1 965.5,1280.2 967.0,1280.8 968.5,1280.9 970.0,1279.8 971.5,1281.6 973.0,1280.9 974.5,1281.2 976.0,1282.7 977.5,1282.5 979.0,1282.0 980.5,1281.3 982.0,1282.8 983.5,1283.3 985.0,1283.2 986.5,1282.8 988.0,1283.4 989.5,1283.4 991.0,1284.5 992.5,1285.2 994.0,1285.6 995.5,1284.8 997.0,1285.6 998.5,1286.1 1000.0,1285.7 1001.5,1286.2 1003.0,1287.8 1004.5,1286.8 1006.0,1287.5 1007.5,1286.9 1009.0,1287.5 1010.5,1286.6 1012.0,1287.9 1013.5,1288.8 1015.0,1289.6 1016.5,1289.3 1018.0,1289.2 1019.5,1289.1 1021.0,1288.9 1022.5,1289.4 1024.0,1290.1 1025.5,1289.5 1027.0,1290.8 1028.5,1289.8 1030.0,1289.6 1031.5,1290.3 1033.0,1290.2 1034.5,1290.6 1036.0,1292.3 1037.5,1291.8 1039.0,1292.3 1040.5,1293.1 1042.0,1293.4 1043.5,1292.6 1045.0,1293.9 1046.5,1293.6 1048.0,1293.7 1049.5,1294.2 1051.0,1293.3 1052.5,1294.0 1054.0,1294.6 1055.5,1295.3 1057.0,1295.0 1058.5,1295.4 1060.0,1296.3 1061.5,1296.9 1063.0,1296.8 1064.5,1297.4 1066.0,1296.6 1067.4,1297.0 1068.9,1297.6 1070.4,1297.5 1071.9,1297.7 1073.4,1299.3 1074.8,1298.5 1076.3,1298.3 1077.8,1299.5 1079.3,1300.6 1080.7,1299.9 1082.2,1300.9 1083.7,1300.2 1085.2,1300.4 1086.6,1300.6 1088.1,1301.3 1089.6,1302.8 1091.1,1301.3 1092.6,1303.3 1094.0,1302.0 1095.5,1302.8 1097.0,1303.7 1098.5,1303.9 1099.9,1304.0 1101.4,1303.2 1102.9,1304.7 1104.4,1304.2 1105.8,1306.7 1107.3,1305.4 1108.8,1305.9 1110.3,1305.5 1111.8,1306.2 1113.2,1306.0 1114.7,1307.7 1116.2,1307.3 1117.7,1308.1 1119.1,1307.7 1120.6,1308.1 1122.1,1309.5 1123.6,1308.5 1125.0,1308.3 1126.5,1309.9 1128.0,1309.3 1129.5,1310.0 1131.0,1311.1 1132.4,1310.4 1133.9,1311.7 1135.4,1311.1 1136.9,1312.7 1138.3,1312.8 1139.8,1312.0 1141.3,1312.5 1142.8,1312.4 1144.2,1313.3 1145.7,1314.1 1147.2,1312.9 1148.7,1314.5 1150.2,1313.5 1151.6,1314.0 1153.1,1313.7 1154.6,1316.3 1156.1,1315.4 1157.5,1315.7 1159.0,1315.4 1160.5,1316.7 1162.0,1315.1 1163.5,1316.6 1165.0,1318.2 1166.5,1316.9 1168.0,1317.4 1169.5,1318.1 1171.0,1317.5 1172.5,1318.2 1174.0,1319.0 1175.5,1318.8 1177.0,1319.2 1178.5,1319.0 1180.0,1319.7 1181.5,1319.7 1183.0,1320.8 1184.5,1320.6 1186.0,1320.2 1187.5,1319.0 1189.0,1321.1 1190.5,1321.3 1192.0,1320.4 1193.5,1319.9 1195.0,1320.6 1196.6,1321.9 1198.1,1320.8 1199.7,1321.3 1201.3,1321.8 1202.9,1322.4 1204.4,1321.7 1206.0,1321.7 1207.6,1321.5 1209.1,1322.9 1210.7,1322.6 1212.2,1321.9 1213.7,1321.1 1215.2,1321.5 1216.7,1322.3 1218.1,1321.6 1219.6,1322.5 1220.9,1322.2 1222.3,1322.2 1223.6,1322.4 1225.2,1322.3 1227.0,1321.5 1228.6,1321.8 1230.2,1323.3 1231.8,1321.1 1233.3,1321.5 1234.7,1322.4 1236.2,1321.6 1237.6,1321.1 1239.0,1320.7 1240.3,1321.7 1241.7,1321.9 1243.1,1322.0 1244.6,1321.1 1246.0,1321.6 1247.6,1320.2 1249.1,1320.8 1250.7,1320.1 1252.4,1320.3 1254.0,1320.4 1255.6,1320.4 1257.2,1318.9 1258.8,1320.0 1260.3,1318.8 1261.8,1318.3 1263.2,1318.7 1264.5,1317.9 1265.8,1318.9 1267.6,1319.3 1269.2,1319.5 1270.5,1320.5 1271.7,1320.8 1272.8,1321.9 1273.9,1322.0 1274.9,1323.8 1276.1,1324.3 1277.5,1325.4 1278.8,1326.4 1280.0,1327.2 1281.3,1326.8 1282.7,1327.5 1284.0,1329.0 1285.5,1330.2 1286.9,1330.8 1288.3,1331.8 1289.8,1332.8 1291.2,1333.0 1292.6,1333.3 1294.0,1333.4 1295.4,1334.1 1296.8,1335.1 1298.2,1336.2 1299.5,1336.9 1300.9,1337.4 1302.3,1338.0 1303.7,1339.1 1305.1,1339.5 1306.5,1340.1 1308.0,1340.6 1309.5,1340.5 1310.9,1340.6 1312.4,1341.9 1314.0,1342.1 1315.6,1342.0 1317.3,1342.2 1318.9,1344.0 1320.5,1342.4 1322.2,1342.8 1323.7,1343.2 1325.2,1342.4 1326.6,1343.2 1327.9,1344.2 1329.7,1343.5 1331.0,1343.0 1332.5,1342.2 1333.7,1341.0 1334.7,1340.5 1335.8,1338.8 1337.0,1337.7 1338.3,1337.0 1339.5,1336.3 1340.7,1334.7 1342.0,1333.9 1343.4,1331.7 1345.0,1333.7 1346.3,1335.0 1347.3,1335.0 1348.4,1334.8 1349.5,1335.4 1350.6,1337.2 1351.8,1337.5 1353.0,1339.8 1354.2,1340.2 1355.5,1342.3 1356.7,1343.7 1358.0,1342.8 1359.1,1345.1 1360.2,1345.5 1361.3,1346.2 1362.5,1347.8 1363.6,1349.2 1364.8,1351.1 1366.0,1350.6 1367.2,1353.3 1368.4,1354.9 1369.6,1355.0 1370.8,1355.8 1372.0,1356.1 1373.2,1356.0 1374.5,1357.5 1376.1,1357.7 1377.7,1357.9 1379.4,1359.0 1381.0,1357.6 1382.7,1357.1 1384.3,1357.3 1385.8,1355.0 1387.2,1354.6 1388.5,1354.5 1389.7,1353.8 1391.0,1353.7 1392.0,1351.6 1392.6,1351.2 1393.1,1349.5 1393.7,1347.6 1394.6,1345.9 1395.8,1346.3 1397.2,1346.6 1398.7,1346.1 1400.3,1347.6 1401.4,1348.4 1403.1,1348.7 1404.6,1350.0 1406.0,1349.7 1407.3,1348.1 1408.5,1347.9 1409.7,1346.4 1410.8,1346.1 1411.9,1344.0 1413.0,1343.8 1414.0,1342.2 1414.9,1341.3 1415.5,1339.5 1416.0,1337.6 1416.6,1338.3 1417.1,1335.9 1417.6,1335.7 1418.5,1333.7 1419.3,1332.8 1420.5,1333.1 1421.7,1333.1 1422.5,1334.8 1423.3,1334.5 1424.0,1337.5 1424.6,1337.9 1425.1,1339.1 1425.7,1340.3 1426.2,1341.6 1427.1,1344.0 1427.9,1343.2 1428.9,1345.5 1430.1,1346.3 1431.3,1348.6 1432.5,1348.8 1433.8,1350.2 1435.1,1350.4 1436.5,1351.4 1438.0,1351.6 1439.5,1350.4 1440.7,1350.1 1442.0,1348.5 1443.3,1348.7 1444.6,1348.0 1446.0,1346.1 1447.3,1346.0 1448.6,1343.0 1449.8,1342.0 1451.0,1341.2 1452.1,1340.7 1453.1,1340.0 1454.2,1338.8 1455.2,1337.7 1456.3,1337.0 1457.3,1335.1 1458.2,1333.5 1459.2,1332.3 1460.1,1333.1 1460.9,1329.2 1461.7,1329.3 1462.6,1329.0 1463.3,1327.0 1464.0,1324.9 1464.7,1324.1 1465.3,1323.2 1465.9,1322.1 1466.4,1319.4 1466.9,1318.9 1467.4,1317.2 1467.8,1316.2 1468.3,1314.9 1468.6,1312.4 1468.9,1310.3 1469.2,1309.9 1469.4,1309.2 1469.7,1307.0 1469.9,1305.2 1470.1,1305.0 1470.4,1301.4 1470.6,1301.0 1470.8,1298.6 1471.1,1297.5 1471.4,1296.0 1471.7,1295.4 1472.0,1292.5 1472.2,1291.3 1472.5,1289.2 1472.8,1289.0 1473.1,1287.0 1473.4,1286.0 1473.6,1283.5 1473.9,1282.3 1474.1,1281.7 1474.3,1279.5 1474.5,1278.5 1474.7,1276.9 1474.9,1274.7 1475.1,1272.4 1475.3,1272.3 1475.5,1270.2 1475.6,1269.1 1475.8,1265.8 1476.0,1264.5 1476.2,1262.8 1476.4,1262.3 1476.6,1261.9 1476.8,1260.3 1477.1,1258.7 1477.4,1257.1 1477.7,1255.9 1478.1,1253.9 1478.4,1253.0 1478.9,1251.4 1479.4,1248.9 1480.1,1248.8 1481.2,1248.9 1482.6,1248.0 1483.6,1248.9 1484.5,1250.1 1485.0,1251.7 1485.3,1253.9 1485.6,1254.2 1485.9,1255.1 1486.1,1255.0 1486.3,1258.0 1486.5,1258.9 1486.7,1260.4 1486.8,1263.6 1486.9,1265.4 1487.0,1265.2 1487.1,1268.2 1487.2,1269.5 1487.3,1270.0 1487.3,1272.1 1487.4,1272.0 1487.5,1273.6 1487.5,1274.9 1487.6,1276.5 1487.6,1279.2 1487.7,1279.4 1487.8,1281.0 1487.8,1282.7 1487.9,1285.0 1488.0,1286.3 1488.0,1288.7 1488.1,1289.4 1488.2,1290.7 1488.2,1292.8 1488.3,1294.8 1488.4,1295.9 1488.4,1298.3 1488.5,1300.9 1488.6,1301.1 1488.6,1303.1 1488.7,1305.5 1488.8,1305.9 1488.8,1307.4 1488.9,1308.8 1489.0,1311.2 1489.1,1312.8 1489.1,1313.9 1489.2,1315.6 1489.3,1317.9 1489.4,1319.3 1489.4,1319.6 1489.5,1322.1 1489.6,1323.8 1489.7,1325.8 1489.7,1326.9 1489.8,1328.3 1489.9,1330.1 1490.0,1331.0 1490.0,1333.7 1490.1,1335.0 1490.2,1337.3 1490.3,1338.0 1490.4,1339.9 1490.5,1341.2 1490.5,1342.7 1490.6,1345.2 1490.7,1346.0 1490.8,1348.0 1490.9,1348.4 1491.0,1350.5 1491.1,1350.7 1491.2,1352.7 1491.3,1354.2 1491.5,1356.3 1491.7,1358.1 1492.0,1359.7 1492.2,1361.9 1492.5,1362.9 1492.7,1364.3 1493.1,1365.9 1493.6,1366.6 1494.2,1367.8 1494.9,1369.3 1495.6,1370.1 1496.3,1371.7 1497.0,1373.1 1498.2,1374.3 1499.4,1374.7 1500.7,1375.1 1501.9,1376.5 1503.0,1376.8 1504.4,1377.6 1505.8,1376.1 1507.1,1375.1 1508.3,1374.3 1509.3,1372.3 1510.1,1371.6 1510.8,1371.7 1511.4,1370.3 1511.8,1368.6 1512.3,1367.0 1512.6,1365.0 1512.9,1364.4 1513.2,1362.8 1513.5,1361.5 1513.7,1359.6 1514.0,1358.4 1514.2,1356.7 1514.5,1355.3 1514.8,1354.3 1515.0,1352.0 1515.3,1349.2 1515.6,1348.0 1515.8,1346.0 1516.1,1345.0 1516.4,1344.3 1516.6,1342.6 1516.9,1340.4 1517.2,1339.3 1517.4,1337.0 1517.7,1335.0 1518.0,1333.4 1518.3,1332.2 1518.5,1332.1 1518.8,1329.0 1519.1,1329.2 1519.4,1327.9 1519.7,1325.9 1520.1,1324.5 1520.5,1322.6 1520.9,1321.4 1521.3,1320.4 1521.7,1318.7 1522.1,1318.1 1522.7,1316.9 1524.0,1316.2 1524.5,1317.4 1524.8,1318.3 1525.2,1320.0 1525.5,1320.8 1525.7,1322.9 1526.0,1324.0 1526.2,1324.7 1526.4,1327.8 1526.6,1327.3 1526.9,1328.6 1527.1,1330.6 1527.3,1330.5 1527.5,1332.4 1527.8,1333.6 1528.1,1335.3 1528.5,1337.2 1529.2,1338.6 1530.0,1338.1 1530.5,1336.1 1530.9,1334.9 1531.2,1333.0 1531.6,1330.9 1532.0,1330.6 1532.5,1328.2 1533.1,1326.4 1533.5,1326.5 1533.9,1324.9 1534.3,1323.4 1534.9,1322.2 1535.5,1321.1 1536.5,1319.1 1537.5,1321.2 1537.9,1321.6 1538.4,1323.8 1538.8,1324.8 1539.2,1327.5 1539.6,1328.5 1539.9,1329.0 1540.1,1330.8 1540.4,1331.5 1540.7,1333.8 1540.9,1335.8 1541.1,1336.8 1541.3,1336.8 1541.4,1339.1 1541.6,1341.1 1541.7,1342.2 1541.8,1344.1 1541.9,1344.0 1541.9,1346.6 1542.0,1347.5 1542.1,1349.6 1542.1,1351.3 1542.2,1353.1 1542.3,1354.0 1542.4,1356.1 1542.5,1356.9 1542.6,1358.4 1542.7,1361.1 1542.8,1362.3 1543.0,1362.8 1543.2,1364.6 1543.4,1366.6 1543.6,1368.7 1543.8,1369.6 1544.0,1370.7 1544.3,1370.4 1544.5,1372.6 1544.8,1374.1 1545.2,1375.8 1545.6,1377.5 1546.1,1378.6 1546.5,1381.2 1547.0,1382.3 1547.8,1382.8 1548.5,1383.2 1549.8,1385.7 1551.0,1384.0 1552.3,1384.3 1553.7,1383.6 1554.6,1381.0 1555.5,1380.8 1556.5,1379.3 1557.4,1378.8 1558.3,1377.5 1559.1,1377.4 1559.9,1375.5 1560.7,1373.9 1561.5,1373.2 1562.3,1371.0 1563.1,1369.5 1563.8,1369.6 1564.6,1366.3 1565.3,1365.1 1566.1,1363.9 1566.8,1361.8 1567.4,1359.8 1568.0,1360.3 1568.6,1357.9 1569.2,1356.6 1569.8,1355.3 1570.4,1353.5 1570.9,1352.0 1571.4,1351.3 1572.0,1351.2 1572.5,1348.8 1573.0,1347.3 1573.5,1344.5 1574.0,1344.0 1574.5,1341.8 1574.9,1341.5 1575.4,1339.3 1575.8,1337.9 1576.3,1336.2 1576.7,1334.3 1577.1,1332.2 1577.5,1331.9 1577.9,1329.3 1578.3,1328.0 1578.7,1327.2 1579.1,1325.7 1579.5,1325.1 1580.0,1324.2 1580.5,1322.6 1581.0,1321.4 1581.7,1319.9 1582.4,1319.1 1583.0,1316.4 1583.8,1316.5 1584.6,1314.6 1585.5,1313.3 1586.8,1314.0 1587.6,1314.9 1588.2,1316.9 1588.5,1318.4 1588.8,1317.8 1589.1,1320.6 1589.4,1323.2 1589.6,1323.9 1589.8,1325.9 1589.9,1326.5 1590.1,1327.4 1590.2,1329.0 1590.3,1331.6 1590.4,1333.5 1590.5,1334.0 1590.6,1335.8 1590.6,1337.5 1590.7,1337.6 1590.8,1339.9 1590.8,1342.5 1590.9,1344.4 1590.9,1344.6 1591.0,1347.4 1591.1,1347.6 1591.1,1349.1 1591.2,1349.9 1591.3,1353.5 1591.3,1354.4 1591.4,1357.7 1591.5,1358.2 1591.6,1359.7 1591.7,1360.1 1591.7,1363.7 1591.8,1364.1 1591.9,1365.7 1592.0,1365.9 1592.2,1369.1 1592.3,1370.7 1592.5,1371.6 1592.6,1373.7 1592.8,1375.7 1592.9,1377.7 1593.0,1378.9 1593.2,1381.5 1593.4,1381.9 1593.5,1383.3 1593.7,1384.9 1593.9,1385.1 1594.2,1387.6 1594.4,1390.1 1594.7,1390.9 1595.0,1391.5 1595.4,1393.4 1595.9,1393.4 1596.6,1396.0 1597.2,1397.5 1598.3,1398.9 1599.4,1399.0 1600.7,1400.8 1602.0,1402.1 1603.3,1401.4 1604.6,1402.9 1605.9,1402.3 1607.1,1403.1 1608.1,1405.7 1609.2,1406.5 1610.3,1407.7 1611.3,1408.4 1612.4,1409.7 1613.5,1411.5 1614.6,1413.2 1615.7,1413.1 1616.8,1413.3 1618.0,1416.1 1619.2,1416.7 1620.4,1417.9 1621.6,1418.8 1622.9,1421.3 1624.2,1421.1 1625.4,1422.3 1626.7,1421.8 1627.9,1423.2 1629.1,1423.5 1630.7,1423.9 1631.9,1423.8 1633.0,1422.5 1634.1,1423.1 1635.2,1420.3 1636.3,1419.5 1637.4,1418.5 1638.5,1416.2 1639.2,1416.3 1639.9,1415.3 1640.5,1413.8 1641.4,1413.7 1642.2,1411.4 1642.9,1410.2 1643.6,1408.1 1644.3,1406.2 1645.0,1405.3 1645.7,1403.9 1646.4,1402.3 1647.0,1401.6 1647.7,1398.2 1648.3,1397.6 1649.0,1396.0 1649.6,1396.7 1650.6,1394.0 1651.5,1393.0 1652.6,1391.3 1653.6,1391.6 1654.7,1390.2 1656.0,1390.1 1657.5,1388.2 1658.8,1389.8 1660.3,1389.1 1661.9,1388.9 1663.6,1389.1 1665.2,1388.2 1666.9,1388.3 1668.3,1389.1 1669.6,1389.5 1670.6,1389.8 1671.5,1390.9 1672.2,1391.7 1672.9,1393.7 1673.4,1395.3 1674.0,1396.3 1674.5,1399.0 1674.9,1398.7 1675.3,1400.6 1675.6,1403.0 1675.9,1403.0 1676.2,1403.7 1676.5,1407.0 1676.8,1408.1 1677.0,1408.7 1677.3,1411.5 1677.5,1412.1 1677.7,1413.6 1678.0,1415.9 1678.2,1417.3 1678.5,1418.4 1678.8,1420.2 1679.1,1421.0 1679.6,1423.4 1680.1,1424.6 1680.5,1426.3 1681.0,1426.6 1681.7,1427.6 1682.5,1428.8 1683.4,1430.3 1684.7,1431.9 1686.1,1431.3 1687.3,1429.9 1688.5,1429.9 1689.8,1427.6 1690.7,1428.0 1691.6,1426.3 1692.4,1426.0 1693.3,1424.9 1694.2,1423.1 1695.0,1422.3 1695.7,1420.1 1696.5,1419.2 1697.2,1418.3 1698.0,1418.5 1698.8,1414.9 1699.5,1413.0 1700.3,1410.9 1701.0,1410.8 1701.8,1408.1 1702.8,1407.5 1703.8,1407.4 1705.4,1405.7 1706.9,1407.0 1708.4,1406.9 1709.9,1406.4 1711.3,1407.3 1712.3,1407.7 1713.3,1408.9 1714.0,1411.2 1714.7,1412.6 1715.4,1413.8 1716.1,1415.3 1716.7,1416.3 1717.4,1418.5 1718.1,1419.0 1718.8,1421.5 1719.4,1423.7 1720.0,1425.0 1720.5,1425.3 1721.1,1426.9 1721.7,1429.4 1722.3,1431.2 1722.8,1430.8 1723.4,1432.9 1724.0,1434.8 1724.6,1436.8 1725.1,1437.0 1725.7,1439.2 1726.3,1439.8 1726.9,1442.5 1727.4,1442.6 1727.9,1443.4 1728.4,1444.5 1728.9,1446.5 1729.5,1447.4 1730.3,1447.8 1731.1,1449.8 1732.0,1449.7 1733.3,1450.5 1734.4,1449.8 1735.6,1448.7 1736.5,1447.9 1737.4,1446.3 1738.0,1446.2 1738.7,1445.3 1739.3,1443.6 1740.0,1442.0 1740.6,1442.1 1741.3,1439.4 1742.3,1438.0 1743.2,1438.5 1744.2,1437.6 1745.5,1437.2 1747.1,1436.6 1748.7,1436.7 1749.8,1437.8 1750.8,1439.0 1752.3,1438.9 1753.8,1438.9 1755.3,1437.5 1756.1,1436.6 1756.9,1436.4 1757.5,1434.9 1758.1,1432.5 1758.7,1431.1 1759.4,1429.8 1759.9,1428.8 1760.5,1426.1 1761.1,1425.0 1761.6,1422.1 1762.2,1421.0 1762.7,1420.5 1763.1,1419.2 1763.6,1416.6 1764.0,1415.6 1764.7,1414.6 1765.2,1412.4 1765.7,1411.0 1766.1,1410.4 1766.5,1408.6 1766.9,1407.9 1767.3,1406.3" fill="none" stroke="#ff0000" stroke-width="9" stroke-linejoin="round" stroke-linecap="round"/>
<polyline points="160.0,586.9 160.9,566.4 162.2,589.7 163.2,573.5 164.0,584.8 164.9,560.5 165.9,581.5 166.7,560.6 167.6,592.1 168.5,567.1 169.4,593.7 170.4,563.8 171.4,597.8 172.4,569.0 173.4,590.0 174.5,568.6 175.6,602.4 176.6,562.4 177.5,587.1 178.5,570.1 179.5,588.9 180.2,568.7 181.0,594.6 181.8,556.4 182.6,584.7 183.4,564.1 184.3,596.9 185.1,574.4 185.9,594.2 186.8,573.8 187.7,596.0 188.5,566.1 189.4,587.9 190.3,565.1 191.2,595.1 192.1,564.8 193.0,600.4 193.9,567.2 194.8,602.2 195.8,569.0 196.7,600.3 197.5,580.7 198.1,604.7 198.9,573.0 199.6,613.7 200.3,587.3 201.1,602.0 201.8,573.3 202.6,597.3 203.4,581.9 204.1,617.6 204.9,574.0 205.7,602.2 206.5,575.4 207.3,615.2 208.1,580.4 208.9,612.1 209.7,584.9 210.5,606.4 211.3,590.4 212.1,616.7 212.8,588.0 213.6,624.2 214.3,591.8 215.1,605.7 215.8,592.8 216.5,617.4 217.4,589.7 218.3,617.1 219.2,597.1 220.0,625.6 221.0,596.5 221.9,621.1 222.8,593.9 223.6,609.5 224.4,583.1 225.0,605.6 225.5,594.4 226.0,615.8 226.5,590.1 227.0,615.9 227.5,586.9 227.9,607.4 228.4,572.3 228.8,606.7 229.2,583.3 229.7,599.9 230.1,584.6 230.6,607.6 231.0,575.4 231.5,602.2 232.0,580.6 232.4,604.3 232.9,584.4 233.5,597.0 234.0,575.1 234.7,592.8 235.4,571.4 236.1,592.5 236.8,575.5 237.6,605.0 238.4,565.6 239.2,600.5 240.0,568.3 240.8,598.0 241.5,563.0 242.3,598.3 243.1,553.1 243.8,589.2 244.6,563.8 245.3,589.2 246.0,573.6 246.6,580.6 247.4,563.0 248.2,590.3 248.8,566.1 249.6,588.1 250.3,559.4 251.0,578.1 251.7,561.9 252.1,580.3 252.3,564.1 252.5,571.4 252.6,560.6 252.8,570.3 253.0,561.9 253.1,568.0 253.2,560.3 253.3,567.8 253.4,556.5 253.5,566.4 253.5,555.1 253.6,561.2 253.7,554.5 253.7,562.1 253.8,552.9 253.9,562.8 254.0,550.6 254.0,555.6 254.1,546.4 254.1,556.2 254.2,546.7 254.2,552.9 254.3,544.2 254.3,552.9 254.4,541.9 254.4,549.2 254.5,540.6 254.5,549.2 254.6,538.1 254.6,543.1 254.6,539.0 254.7,542.6 254.7,535.9 254.8,542.2 254.8,531.9 254.9,540.8 254.9,531.5 255.0,537.7 255.0,526.2 255.0,534.4 255.1,526.4 255.1,535.9 255.2,524.1 255.2,528.1 255.3,521.7 255.3,527.9 255.4,520.1 255.4,528.3 255.4,517.5 255.5,524.5 255.5,515.2 255.5,524.0 255.6,514.6 255.6,521.8 255.6,512.3 255.6,518.8 255.7,511.9 255.7,517.8 255.7,511.1 255.8,513.9 255.8,505.5 255.8,513.8 255.8,505.9 255.9,512.2 255.9,504.0 255.9,510.5 255.9,502.0 256.0,507.2 256.0,498.6 256.0,505.4 256.0,496.4 256.1,501.7 256.1,497.9 256.1,504.2 256.1,494.3 256.2,499.3 256.2,491.3 256.2,496.5 256.2,489.7 256.2,493.4 256.3,488.4 256.3,492.9 256.3,484.6 256.3,493.3 256.4,484.8 256.4,492.4 256.4,482.2 256.4,484.7 256.5,481.8 256.5,487.9 256.5,477.0 256.5,482.1 256.6,475.9 256.6,479.2 256.6,470.2 256.6,478.7 256.7,467.4 256.7,476.4 256.7,471.1 256.7,476.1 256.7,466.8 256.8,472.2 256.8,461.5 256.8,470.1 256.8,460.1 256.9,468.5 256.9,461.4 256.9,467.4 256.9,459.1 257.0,466.7 257.0,454.6 257.0,462.8 257.0,453.4 257.1,461.9 257.1,453.1 257.1,460.7 257.1,451.2 257.1,458.5 257.2,450.8 257.2,456.0 257.2,446.6 257.2,452.4 257.3,446.0 257.3,450.9 257.3,442.2 257.4,448.8 257.4,441.0 257.4,450.9 257.5,439.4 257.5,443.8 257.5,438.1 257.6,446.6 257.7,436.7 257.7,444.6 257.9,432.9 258.0,441.3 258.5,434.4 258.6,441.6 258.7,436.7 258.8,445.2 259.0,438.4 259.0,448.2 259.1,441.4 259.1,449.3 259.2,441.9 259.3,448.1 259.4,446.2 259.5,452.4 259.6,447.4 259.6,454.9 259.7,449.3 259.8,455.8 259.8,449.6 259.9,459.7 259.9,455.6 260.0,461.2 260.0,456.4 260.1,465.7 260.1,457.0 260.1,464.0 260.2,457.9 260.2,466.2 260.3,460.0 260.3,471.0 260.4,461.5 260.4,471.8 260.4,462.0 260.5,470.7 260.5,463.0 260.6,475.5 260.6,466.3 260.7,475.0 260.7,468.6 260.8,479.2 260.8,473.0 260.8,484.4 260.9,473.2 260.9,482.3 261.0,475.9 261.1,486.3 261.1,476.2 261.1,487.4 261.2,477.7 261.2,490.6 261.3,483.6 261.3,489.1 261.3,484.8 261.4,491.8 261.4,482.6 261.5,494.5 261.5,488.6 261.5,494.8 261.6,487.0 261.6,496.2 261.7,490.7 261.7,499.5 261.7,495.3 261.8,502.2 261.8,493.7 261.9,503.7 261.9,497.9 262.0,503.4 262.0,499.1 262.0,507.1 262.1,499.8 262.1,508.9 262.2,498.5 262.2,513.0 262.3,504.8 262.3,511.4 262.4,501.9 262.4,514.0 262.5,504.2 262.5,519.7 262.6,509.7 262.6,518.0 262.7,510.1 262.7,518.6 262.8,514.0 262.8,521.4 262.9,511.6 262.9,523.1 263.0,515.5 263.1,525.0 263.1,520.0 263.2,531.7 263.2,522.8 263.3,528.8 263.4,519.2 263.4,529.1 263.5,521.0 263.5,537.9 263.6,526.6 263.6,537.4 263.7,529.2 263.7,540.4 263.8,528.0 263.8,541.7 263.9,526.3 263.9,544.5 264.0,528.1 264.0,547.1 264.1,537.0 264.2,548.1 264.2,533.8 264.3,545.0 264.4,532.8 264.5,551.5 264.6,537.2 264.7,550.4 264.8,539.5 264.9,556.4 265.1,542.5 265.3,558.1 265.5,549.0 265.7,565.2 265.9,548.3 266.1,555.6 266.4,549.0 266.8,561.1 267.3,543.1 267.8,563.3 268.4,544.8 269.1,564.5 269.7,536.2 270.4,573.1 271.1,538.3 271.8,566.0 272.5,545.6 273.2,567.1 273.9,546.9 274.6,576.3 275.3,559.1 276.0,568.5 276.7,558.5 277.2,568.1 277.7,557.5 278.2,572.2 278.7,562.5 279.2,578.9 279.7,553.8 280.2,573.2 280.7,560.8 281.2,581.3 281.7,560.7 282.2,579.2 282.8,556.9 283.3,588.5 283.9,559.1 284.4,584.7 285.0,554.1 285.6,596.1 286.2,567.7 286.8,588.3 287.3,561.2 287.8,586.3 288.4,566.6 288.9,592.1 289.5,573.8 290.0,592.4 290.6,579.9 291.1,592.5 291.7,582.3 292.3,608.6 292.9,568.0 293.5,605.0 294.1,575.8 294.6,605.6 295.2,572.6 295.8,607.3 296.5,575.9 297.1,599.1 297.7,579.8 298.3,602.3 298.9,589.1 299.7,600.4 300.4,582.1 301.2,612.3 302.2,591.7 303.1,615.9 304.0,577.1 304.8,604.4 305.5,585.8 306.1,604.9 306.7,577.3 307.4,601.9 308.0,586.3 308.7,604.0 309.3,587.5 310.0,601.3 310.6,571.5 311.3,600.3 311.9,571.7 312.6,599.6 313.3,570.3 313.9,596.3 314.6,576.7 315.3,593.1 316.0,571.8 316.8,599.6 317.6,562.4 318.4,594.7 319.3,573.8 320.1,588.5 321.0,570.6 321.9,598.9 322.8,567.8 323.7,591.5 324.6,573.3 325.6,596.2 326.5,568.0 327.4,591.6 328.3,569.0 329.3,600.3 330.2,570.3 331.1,600.3 332.0,563.1 332.9,591.9 333.8,564.7 334.7,590.6 335.6,572.8 336.4,589.4 337.3,572.7 338.2,592.7 339.2,567.3 340.1,592.2 341.0,562.5 341.9,580.1 342.9,564.3 343.8,579.3 344.7,564.2 345.6,582.3 346.4,564.3 347.2,591.3 348.0,572.1 348.8,584.3 349.5,564.8 350.2,575.3 351.1,561.7 351.8,580.4 352.7,565.3 353.6,576.2 354.2,553.3 354.8,576.1 355.1,566.6 355.3,572.5 355.6,560.1 355.8,572.6 356.0,557.2 356.2,568.4 356.4,553.2 356.6,568.5 356.7,558.3 356.9,565.7 357.0,553.0 357.1,569.9 357.2,548.1 357.4,563.8 357.5,547.8 357.6,563.8 357.7,538.5 357.9,558.8 358.0,542.3 358.1,561.8 358.2,545.5 358.4,557.8 358.5,539.5 358.6,553.5 358.8,536.1 358.9,557.1 359.1,532.2 359.3,550.8 359.4,533.8 359.6,558.2 359.8,536.6 360.0,548.6 360.2,527.4 360.3,546.4 360.5,526.3 360.7,544.5 360.9,524.0 361.1,546.6 361.3,525.7 361.5,540.8 361.7,523.3 361.8,536.8 362.0,521.4 362.2,532.5 362.4,516.9 362.6,541.2 362.8,511.7 363.0,537.7 363.2,519.6 363.5,536.7 363.7,516.8 364.0,529.2 364.3,505.8 364.6,523.9 364.9,507.7 365.2,527.0 365.5,509.3 365.7,520.9 366.0,505.4 366.2,520.5 366.5,501.2 366.7,524.8 366.8,508.3 367.1,516.6 367.3,502.5 367.5,512.1 367.7,503.3 367.9,514.6 368.2,497.8 368.4,506.0 368.6,496.7 368.9,511.6 369.1,496.9 369.4,504.1 369.6,484.5 369.8,510.1 370.1,494.1 370.3,498.4 370.6,484.9 370.8,497.1 371.0,485.4 371.3,498.2 371.6,480.8 371.9,492.1 372.3,487.5 372.9,492.4 373.6,477.5 374.1,497.6 374.5,489.1 374.7,501.8 375.0,482.2 375.3,501.1 375.5,488.2 375.7,505.5 375.9,484.2 376.1,506.1 376.3,488.3 376.5,507.0 376.7,493.3 376.9,505.5 377.1,492.6 377.3,509.3 377.5,496.0 377.8,515.7 378.1,495.4 378.3,517.3 378.6,504.6 378.8,517.9 379.1,502.9 379.3,514.9 379.6,505.9 379.8,524.4 380.1,501.9 380.4,519.5 380.6,511.3 380.9,524.4 381.2,511.0 381.5,532.6 381.7,516.8 382.0,522.6 382.3,514.5 382.6,530.7 382.8,514.9 383.1,535.1 383.4,509.5 383.7,532.8 384.1,520.7 384.5,529.5 385.1,519.1 385.9,539.0 386.5,520.0 386.9,538.6 387.3,517.3 387.6,538.2 387.9,514.4 388.2,526.8 388.6,515.7 388.9,522.8 389.1,517.6 389.3,527.7 389.5,506.7 389.7,532.2 389.9,508.4 390.1,522.6 390.3,510.6 390.5,525.5 390.8,503.3 391.1,517.6 391.3,500.2 391.5,520.0 391.7,507.1 391.9,519.0 392.1,498.8 392.3,513.1 392.5,499.1 392.7,519.1 392.9,490.1 393.1,517.5 393.3,498.0 393.5,506.6 393.7,488.6 393.8,502.7 394.0,492.6 394.2,499.1 394.4,481.4 394.6,507.2 394.7,484.6 394.9,502.2 395.1,485.9 395.3,498.2 395.4,480.4 395.6,495.4 395.8,476.5 395.9,494.5 396.1,482.4 396.4,499.1 396.6,477.9 396.8,494.6 397.0,477.2 397.2,484.8 397.4,472.0 397.6,484.5 397.9,468.3 398.2,481.7 398.4,476.5 398.5,486.8 398.7,467.2 398.9,484.5 399.1,471.5 399.3,485.5 399.5,470.5 399.7,478.6 399.8,466.0 400.0,476.7 400.1,457.9 400.3,473.7 400.4,457.0 400.5,476.5 400.6,463.5 400.7,468.2 400.8,457.2 400.9,468.5 401.0,453.2 401.1,462.9 401.2,450.0 401.2,469.4 401.3,451.3 401.4,460.3 401.5,449.0 401.6,461.2 401.7,445.3 401.8,460.8 401.9,442.9 401.9,457.7 402.0,438.7 402.1,451.6 402.2,445.0 402.3,456.8 402.4,444.7 402.5,455.6 402.5,441.8 402.6,451.5 402.7,439.0 402.8,447.8 402.9,433.7 403.0,447.0 403.1,433.7 403.1,452.2 403.2,430.6 403.3,440.4 403.4,425.9 403.5,443.9 403.6,423.0 403.6,444.6 403.7,427.5 403.8,440.2 403.9,419.1 404.0,434.7 404.0,419.7 404.1,427.5 404.2,420.0 404.3,435.5 404.4,421.1 404.5,426.4 404.5,413.2 404.6,427.5 404.7,407.4 404.8,419.0 404.9,410.1 405.0,424.3 405.0,412.2 405.1,419.9 405.2,401.6 405.3,421.8 405.4,403.5 405.5,411.7 405.6,403.6 405.8,415.4 406.0,402.5 406.7,413.8 406.9,397.6 407.0,415.4 407.2,408.2 407.3,418.2 407.4,408.5 407.5,418.6 407.7,409.9 407.8,423.0 407.9,411.1 408.1,420.1 408.2,413.8 408.4,425.8 408.6,416.7 408.9,429.0 409.1,416.3 409.4,426.5 409.6,419.4 409.7,434.1 409.9,418.7 410.2,431.7 410.5,422.5 410.7,432.4 411.0,429.0 411.3,436.3 411.8,427.8 412.3,435.9 412.5,426.8 412.7,433.5 412.8,425.8 412.9,431.8 413.0,421.6 413.2,428.7 413.3,419.5 413.4,423.9 413.5,419.6 413.7,426.2 413.8,413.5 413.9,422.1 414.1,414.4 414.2,418.0 414.4,412.0 414.6,419.1 414.7,412.8 414.9,416.8 415.1,408.3 415.3,414.9 415.4,408.8 415.6,412.9 415.7,407.4 415.9,412.3 416.0,403.3 416.1,406.5 416.2,399.7 416.3,407.7 416.4,400.5 416.5,407.0 416.6,398.9 416.7,402.4 416.8,393.8 416.9,397.9 416.9,392.4 417.0,398.1 417.1,392.0 417.1,395.1 417.2,389.8 417.3,393.2 417.3,389.4 417.4,391.9 417.5,387.7 417.6,392.2 417.6,385.7 417.7,387.6 417.8,383.0 417.8,386.8 417.9,380.1 417.9,386.0 418.0,379.6 418.1,382.9 418.1,377.5 418.2,382.5 418.2,375.0 418.3,379.2 418.4,375.8 418.4,380.4 418.5,371.0 418.5,376.4 418.6,369.8 418.7,373.7 418.7,369.4 418.8,372.0 418.8,366.6 418.9,369.7 419.0,366.1 419.0,368.1 419.1,361.8 419.1,366.0 419.2,360.5 419.3,362.6 419.3,358.8 419.4,362.4 419.4,357.9 419.5,358.6 419.6,354.0 419.6,357.6 419.7,351.9 419.7,356.1 419.8,349.8 419.8,354.1 419.9,350.2 420.0,352.4 420.0,346.8 420.1,351.2 420.1,344.9 420.2,348.0 420.2,341.4 420.3,347.8 420.3,339.5 420.4,345.6 420.5,337.8 420.5,343.3 420.6,335.4 420.6,340.9 420.7,334.3 420.7,338.7 420.8,329.7 420.8,336.6 420.8,330.9 420.9,334.4 420.9,328.9 421.0,333.4 421.0,328.5 421.0,329.4 421.1,325.1 421.1,327.8 421.2,323.3 421.2,328.0 421.2,320.5 421.3,327.9 421.3,319.5 421.4,323.5 421.4,319.5 421.4,321.4 421.5,316.2 421.5,318.5 421.5,314.3 421.6,318.5 421.6,311.7 421.6,316.3 421.7,310.5 421.7,313.9 421.8,309.2 421.8,310.9 421.8,306.6 421.9,312.7 421.9,304.6 421.9,309.4 422.0,304.0 422.0,308.7 422.0,301.9 422.1,306.1 422.1,298.9 422.1,302.1 422.2,295.9 422.2,301.3 422.2,295.0 422.3,299.9 422.3,293.3 422.3,297.0 422.4,290.8 422.4,295.0 422.4,289.3 422.5,292.8 422.5,289.2 422.5,290.9 422.6,286.2 422.6,289.8 422.6,282.3 422.7,286.0 422.7,281.7 422.7,284.1 422.7,281.2 422.8,283.7 422.8,280.1 422.8,280.5 422.9,276.2 422.9,280.7 422.9,274.7 423.0,277.9 423.0,270.3 423.0,276.9 423.0,272.0 423.1,277.3 423.1,268.6 423.1,273.2 423.2,266.2 423.2,272.2 423.2,265.2 423.2,270.6 423.3,265.5 423.3,269.9 423.3,262.3 423.4,265.4 423.4,261.3 423.4,265.7 423.5,258.8 423.5,262.7 423.5,255.4 423.6,260.4 423.6,255.7 423.7,258.7 423.7,250.6 423.7,256.8 423.8,247.6 423.8,254.1 423.8,246.5 423.9,253.5 423.9,245.7 423.9,251.6 424.0,241.3 424.0,248.5 424.0,239.2 424.1,246.7 424.1,240.6 424.1,245.2 424.2,237.3 424.2,242.5 424.2,235.7 424.3,241.8 424.3,233.4 424.3,237.7 424.3,231.8 424.4,237.6 424.4,231.5 424.4,234.6 424.4,229.5 424.5,232.7 424.5,227.0 424.5,233.0 424.6,223.5 424.6,231.6 424.6,222.7 424.6,229.4 424.7,220.2 424.7,225.5 424.7,218.8 424.8,224.3 424.8,217.7 424.9,221.3 424.9,216.1 424.9,219.4 425.0,214.9 425.0,218.3 425.0,211.3 425.1,215.7 425.1,208.8 425.1,214.3 425.2,207.8 425.2,211.1 425.3,206.8 425.3,207.1 425.3,204.8 425.4,208.8 425.4,202.7 425.4,205.5 425.5,196.8 425.5,202.3 425.5,194.5 425.6,203.0 425.6,193.3 425.6,201.6 425.7,191.7 425.7,196.0 425.7,190.0 425.8,194.4 425.8,190.3 425.8,191.6 425.9,184.2 425.9,190.8 425.9,185.3 426.0,188.8 426.0,183.1 426.1,187.3 426.1,181.9 426.2,184.4 426.2,181.2 426.3,183.1 426.5,175.8 426.6,182.6 427.0,172.6 427.3,182.7 427.5,175.7 427.6,182.5 427.7,179.8 427.8,184.5 427.8,182.0 427.9,186.0 428.0,179.8 428.0,188.5 428.1,182.1 428.1,189.5 428.2,187.1 428.2,191.3 428.3,187.9 428.3,195.5 428.4,187.1 428.5,195.2 428.5,192.2 428.6,198.3 428.6,194.5 428.7,199.2 428.8,196.3 428.8,203.4 428.9,198.0 428.9,203.5 429.0,200.6 429.0,205.0 429.1,201.5 429.1,207.7 429.2,204.5 429.2,210.0 429.3,206.6 429.3,211.0 429.4,209.7 429.4,216.1 429.4,209.0 429.5,216.1 429.5,208.5 429.6,217.4 429.6,212.2 429.7,219.4 429.7,213.3 429.8,221.9 429.8,216.2 429.9,222.8 429.9,218.2 430.0,226.5 430.0,222.6 430.0,226.9 430.1,222.9 430.1,228.6 430.2,226.5 430.2,231.9 430.3,227.5 430.3,232.7 430.4,229.1 430.4,233.0 430.4,231.0 430.5,235.0 430.5,233.6 430.5,238.5 430.6,234.1 430.6,240.6 430.6,235.9 430.6,244.9 430.7,236.9 430.7,242.4 430.7,239.9 430.7,244.8 430.8,241.1 430.8,246.7 430.8,243.7 430.8,251.3 430.8,244.4 430.9,250.6 430.9,246.6 430.9,252.6 430.9,246.4 430.9,255.3 431.0,248.6 431.0,254.4 431.0,251.4 431.0,259.7 431.0,251.2 431.1,260.3 431.1,257.7 431.1,262.9 431.1,258.2 431.1,261.9 431.2,260.1 431.2,267.2 431.2,259.7 431.2,268.7 431.3,264.3 431.3,272.6 431.3,266.4 431.3,271.4 431.4,268.6 431.4,275.0 431.4,268.0 431.5,276.3 431.5,270.3 431.5,276.9 431.6,272.0 431.6,276.6 431.6,272.7 431.7,281.7 431.7,276.2 431.8,282.3 431.8,277.1 431.9,286.1 431.9,278.8 432.0,286.0 432.0,281.8 432.1,285.9 432.1,283.8 432.2,289.7 432.3,285.1 432.3,291.5 432.4,285.7 432.5,293.8 432.5,288.0 432.6,295.8 432.7,289.9 432.7,296.7 432.8,291.3 432.9,296.4 432.9,292.1 433.0,298.7 433.1,294.4 433.2,302.1 433.2,295.8 433.3,303.9 433.4,300.1 433.5,307.0 433.5,300.4 433.6,307.5 433.7,302.3 433.8,310.4 433.8,303.1 433.9,311.2 434.0,307.9 434.1,312.1 434.1,307.6 434.2,316.8 434.3,309.0 434.4,316.1 434.4,309.8 434.5,317.9 434.6,313.2 434.7,320.1 434.8,316.9 434.8,323.0 434.9,316.3 435.0,323.3 435.0,320.1 435.1,325.7 435.2,318.6 435.2,326.4 435.3,323.6 435.4,329.6 435.5,326.2 435.5,328.8 435.6,326.7 435.7,332.1 435.7,328.5 435.8,334.3 435.9,329.7 436.0,336.8 436.0,332.9 436.1,338.5 436.2,333.4 436.3,342.4 436.3,335.1 436.4,344.2 436.5,340.6 436.5,344.0 436.6,340.8 436.7,347.7 436.8,344.6 436.8,351.3 436.9,344.0 437.0,350.6 437.1,346.2 437.1,352.9 437.2,349.3 437.3,355.9 437.3,350.8 437.4,355.3 437.5,352.9 437.6,358.8 437.6,355.2 437.7,362.3 437.8,356.9 437.8,364.6 437.9,356.1 438.0,363.0 438.1,359.0 438.2,367.7 438.3,361.2 438.4,366.4 438.5,362.6 438.7,373.0 438.8,367.3 439.0,373.0 439.3,367.3 439.7,374.0 440.4,368.2 441.2,373.9 441.8,367.4 442.4,376.5 443.0,371.4 443.7,379.1 444.4,372.9 445.3,378.7 446.2,371.1 446.9,380.6 447.6,372.0 448.0,382.8 448.2,374.4 448.4,384.4 448.6,375.4 448.8,388.4 449.0,378.9 449.1,388.4 449.2,378.6 449.4,388.5 449.5,382.1 449.6,390.9 449.8,385.7 449.9,389.7 450.0,383.7 450.2,391.5 450.3,384.4 450.4,395.9 450.6,388.6 450.7,398.6 450.8,390.3 451.0,400.0 451.1,393.7 451.2,402.3 451.4,392.8 451.5,406.6 451.6,394.1 451.8,406.9 451.9,398.6 452.1,404.8 452.3,398.8 452.4,411.7 452.6,402.5 452.8,413.3 453.0,400.7 453.2,413.6 453.4,402.8 453.6,416.1 453.8,410.4 454.0,416.2 454.2,409.2 454.3,420.0 454.5,411.8 454.7,419.8 454.9,413.9 455.0,422.7 455.2,413.7 455.4,427.2 455.5,414.1 455.7,427.5 455.8,417.3 455.9,429.3 456.0,419.2 456.2,434.2 456.3,425.1 456.4,432.1 456.5,422.1 456.6,436.9 456.7,427.1 456.8,437.0 456.9,424.4 457.0,437.0 457.1,432.4 457.2,439.1 457.3,432.9 457.4,443.5 457.6,434.0 457.7,448.1 457.8,433.5 457.9,443.9 458.0,436.9 458.1,445.1 458.2,436.6 458.3,453.4 458.4,440.0 458.5,453.9 458.6,443.6 458.7,454.3 458.9,437.4 459.0,451.9 459.1,441.8 459.2,460.2 459.3,451.0 459.4,455.5 459.5,450.9 459.6,463.4 459.7,451.2 459.8,462.3 459.9,450.1 460.0,464.9 460.1,453.1 460.2,465.6 460.3,452.5 460.5,466.3 460.6,452.8 460.7,469.2 460.8,461.1 460.9,473.7 461.0,459.5 461.1,469.1 461.2,461.9 461.3,472.0 461.4,466.5 461.5,479.6 461.7,468.3 461.8,480.3 461.9,468.8 462.0,486.4 462.1,469.8 462.2,479.8 462.4,474.3 462.5,482.3 462.6,472.7 462.7,486.7 462.9,472.1 463.0,489.0 463.1,476.2 463.2,491.3 463.3,478.7 463.5,493.0 463.6,477.9 463.7,496.3 463.8,483.5 463.9,490.9 464.1,486.0 464.2,498.6 464.3,490.6 464.4,498.3 464.5,486.0 464.7,499.9 464.8,492.3 464.9,508.6 465.1,486.7 465.2,504.5 465.3,488.6 465.5,511.0 465.6,497.7 465.8,516.1 465.9,498.9 466.1,509.9 466.3,501.1 466.5,512.8 466.6,503.4 466.8,514.3 467.0,497.6 467.2,516.7 467.4,503.4 467.7,522.7 467.9,507.1 468.2,522.9 468.4,507.0 468.7,522.3 469.0,507.6 469.3,523.9 469.5,509.5 469.8,522.7 470.1,512.9 470.4,528.6 470.7,513.0 471.0,524.9 471.4,516.6 471.7,528.2 472.0,516.0 472.4,532.9 472.7,517.1 473.0,531.7 473.4,518.9 473.7,530.9 474.1,526.6 474.5,537.2 474.8,528.0 475.2,535.7 475.6,528.0 476.0,543.0 476.4,529.6 476.8,543.4 477.2,528.5 477.6,539.5 478.0,534.1 478.5,547.5 478.9,528.4 479.4,550.5 479.8,524.4 480.3,550.3 480.8,531.8 481.3,550.5 481.8,534.0 482.3,551.3 482.8,539.5 483.3,562.3 483.8,544.3 484.3,557.1 484.8,537.2 485.3,558.4 485.8,544.4 486.4,558.7 486.9,543.8 487.4,556.6 487.9,543.5 488.4,560.9 488.9,547.0 489.4,567.0 489.8,550.5 490.3,567.4 490.8,549.8 491.4,569.0 491.9,548.4 492.5,569.9 493.1,554.6 493.7,567.2 494.2,555.5 494.7,572.9 495.2,549.7 495.7,578.5 496.2,556.5 496.7,575.4 497.2,562.8 497.8,568.6 498.3,560.6 498.8,574.6 499.4,564.9 500.0,571.1 500.7,556.3 501.4,576.6 502.1,568.0 502.9,593.1 503.8,560.4 504.6,581.9 505.4,559.1 506.1,581.0 506.7,555.4 507.4,578.2 508.1,570.9 508.9,586.5 509.6,569.2 510.4,595.7 511.2,574.5 512.0,585.9 512.8,566.0 513.6,593.9 514.4,562.8 515.2,594.1 516.0,557.2 516.9,590.9 517.7,569.1 518.5,599.4 519.3,572.7 520.1,594.2 520.9,574.5 521.8,593.3 522.5,579.2 523.3,594.7 524.1,582.5 524.8,600.7 525.6,583.5 526.3,610.9 527.2,566.0 528.2,606.5 529.2,577.6 530.2,597.9 531.1,570.4 532.0,602.9 532.9,574.8 533.8,598.5 534.6,572.5 535.5,598.5 536.3,578.2 537.1,594.2 537.9,582.8 538.7,606.4 539.6,581.9 540.4,601.3 541.3,575.2 542.2,603.5 543.1,572.8 544.0,594.9 545.0,576.7 546.0,606.9 547.1,588.5 547.9,596.9 548.7,575.0 549.6,598.1 550.4,583.3 551.3,607.2 552.2,581.4 553.1,606.3 554.0,584.1 554.9,605.0 555.8,572.9 556.7,604.8 557.6,587.8 558.6,606.3 559.5,578.0 560.4,597.4 561.4,570.3 562.3,593.1 563.2,567.4 564.2,598.5 565.1,569.0 566.0,601.7 567.0,585.1 567.9,602.5 568.8,575.9 569.7,605.1 570.6,572.1 571.4,597.3 572.3,575.5 573.1,606.8 573.9,580.2 574.7,597.9 575.5,584.4 576.4,607.7 577.2,575.2 578.0,599.5 578.8,587.7 579.6,611.6 580.4,589.5 581.2,606.2 582.0,586.0 582.9,596.9 583.7,581.5 584.6,605.6 585.4,574.8 586.3,620.1 587.1,584.6 588.0,613.8 588.9,578.4 589.8,605.8 590.8,589.7 591.7,618.4 592.7,587.6 593.7,609.8 594.5,587.7 595.3,609.7 596.1,589.9 596.9,615.1 597.7,580.0 598.5,609.3 599.4,595.1 600.2,612.1 601.1,596.2 601.9,608.7 602.8,581.5 603.7,625.7 604.6,586.7 605.5,607.3 606.3,584.9 607.2,604.6 608.1,593.6 609.0,622.6 610.0,586.1 610.9,606.9 611.8,599.8 612.7,619.8 613.6,591.4 614.5,612.2 615.4,589.3 616.4,612.8 617.3,601.1 618.2,620.9 619.1,596.0 620.0,611.2 620.9,600.3 621.8,618.6 622.7,597.7 623.6,621.1 624.5,595.1 625.4,624.0 626.3,596.1 627.2,614.7 628.1,603.4 629.0,612.6 629.9,590.7 630.8,633.0 631.7,602.1 632.6,613.7 633.5,593.6 634.4,622.5 635.3,599.7 636.2,620.7 637.1,605.2 638.0,619.0 638.9,591.6 639.8,630.1 640.7,598.0 641.6,619.9 642.4,594.8 643.3,627.9 644.2,595.0 645.1,617.8 646.0,596.0 646.9,627.7 647.8,602.2 648.7,615.1 649.6,595.6 650.5,624.8 651.4,593.3 652.3,623.4 653.2,602.4 654.1,620.6 655.0,604.6 655.9,617.8 656.8,602.0 657.7,620.4 658.6,592.7 659.5,616.2 660.4,599.0 661.3,619.6 662.1,590.2 663.0,624.0 663.9,600.3 664.8,626.8 665.7,597.4 666.6,619.1 667.5,588.8 668.4,625.3 669.3,587.2 670.1,627.2 671.0,592.0 671.9,621.0 672.8,601.8 673.7,623.7 674.6,594.8 675.5,623.0 676.4,594.7 677.3,614.8 678.1,599.8 679.0,622.1 679.9,586.5 680.8,616.2 681.7,590.8 682.6,625.2 683.5,597.7 684.4,615.3 685.3,599.0 686.1,623.6 687.0,591.3 687.9,614.5 688.8,601.9 689.7,616.1 690.6,587.4 691.4,615.7 692.2,595.5 693.1,621.3 693.9,600.4 694.7,618.4 695.6,590.7 696.4,614.3 697.2,599.2 698.1,620.6 698.9,595.7 699.7,618.6 700.6,594.7 701.4,621.8 702.2,601.7 703.1,617.6 703.9,594.9 704.7,628.4 705.6,590.6 706.4,618.3 707.3,592.9 708.1,628.0 708.9,600.0 709.8,627.4 710.6,596.1 711.4,635.4 712.3,607.4 713.1,629.7 713.9,603.1 714.8,626.0 715.6,596.8 716.4,632.5 717.3,609.5 718.1,627.1 718.9,603.4 719.8,621.5 720.6,600.5 721.4,629.6 722.3,605.0 723.2,632.5 724.0,596.4 724.9,631.4 725.8,609.0 726.7,641.4 727.5,610.3 728.4,629.4 729.3,615.8 730.1,638.8 731.0,607.1 731.9,635.9 732.8,608.2 733.6,633.0 734.5,613.9 735.4,630.0 736.3,607.7 737.1,635.4 738.0,601.5 738.9,631.0 739.7,613.7 740.6,630.0 741.5,603.8 742.4,629.3 743.2,607.6 744.1,644.6 745.0,613.1 745.9,641.1 746.7,622.0 747.6,635.4 748.5,622.4 749.3,638.9 750.2,613.7 751.1,634.2 752.0,609.0 752.8,640.9 753.7,617.6 754.6,636.6 755.5,623.3 756.4,638.9 757.3,604.0 758.2,636.6 759.1,614.0 760.0,638.1 761.0,612.4 761.9,644.1 762.8,618.8 763.8,633.1 764.7,621.0 765.7,649.6 766.6,620.1 767.6,647.1 768.5,622.0 769.4,634.9 770.4,617.6 771.3,646.6 772.2,623.8 773.1,643.3 774.1,619.5 774.9,642.6 775.8,619.7 776.7,645.3 777.6,631.4 778.4,646.1 779.3,625.9 780.1,642.7 780.9,620.7 781.7,644.9 782.7,620.3 783.7,654.1 784.6,622.8 785.6,639.7 786.4,627.8 787.2,653.4 788.4,625.1 789.4,643.6 790.3,623.8 791.2,650.3 792.0,621.2 792.8,650.3 793.6,626.3 794.3,644.4 795.0,622.2 795.7,644.8 796.4,629.2 797.1,642.7 797.8,626.4 798.6,650.9 799.4,609.7 800.3,651.9 801.3,613.3 802.3,639.6 803.3,612.3 804.3,641.0 805.3,614.0 806.4,636.9 807.2,620.5 808.0,644.4 808.9,607.4 809.7,641.6 810.5,604.7 811.4,655.5 812.3,624.3 813.2,641.7 814.1,622.5 815.0,641.2 815.9,620.4 816.9,641.8 817.8,612.3 818.8,647.6 819.8,616.6 820.8,642.8 821.8,617.8 822.8,644.0 823.9,615.8 824.9,644.0 826.0,616.9 826.9,637.4 827.9,616.0 828.8,655.1 829.8,620.2 830.5,638.4 831.3,614.4 832.0,645.1 832.8,632.0 833.6,646.5 834.4,620.1 835.2,650.6 836.0,617.5 836.8,652.8 837.6,624.6 838.4,641.0 839.2,632.3 840.0,652.2 840.8,623.4 841.7,646.5 842.5,631.5 843.3,655.7 844.2,638.4 845.0,644.8 845.8,631.4 846.7,656.4 847.5,633.7 848.4,646.8 849.2,631.9 850.0,649.7 850.9,629.4 851.7,657.4 852.5,632.5 853.3,662.3 854.2,637.8 855.0,664.2 855.8,628.9 856.6,662.7 857.4,629.3 858.2,657.9 859.0,632.3 859.7,663.5 860.6,643.5 861.5,662.4 862.3,641.8 863.2,660.5 864.1,639.1 864.9,670.0 865.8,642.0 866.6,665.6 867.5,649.0 868.4,666.1 869.2,635.3 870.1,670.6 870.9,639.7 871.8,663.9 872.6,648.2 873.5,666.9 874.3,650.7 875.1,661.2 876.0,638.9 876.8,663.5 877.7,634.9 878.5,661.3 879.4,642.9 880.2,663.3 881.0,644.9 881.9,664.6 882.7,646.2 883.6,670.0 884.4,649.5 885.2,674.2 886.1,639.5 886.9,668.8 887.8,643.5 888.6,673.1 889.5,649.1 890.3,685.2 891.2,658.7 892.0,670.3 892.8,659.4 893.6,673.0 894.5,652.3 895.3,688.7 896.1,650.0 896.9,685.9 897.7,645.6 898.6,674.6 899.4,650.9 900.2,686.7 901.0,653.3 901.8,679.7 902.7,652.4 903.5,671.3 904.3,660.3 905.1,682.0 905.9,653.9 906.8,676.1 907.6,659.4 908.4,681.2 909.2,659.3 910.1,686.4 910.9,658.7 911.7,684.4 912.5,667.7 913.3,678.7 914.2,659.2 915.0,676.5 915.8,660.3 916.6,682.3 917.4,666.8 918.3,690.0 919.1,666.8 919.9,682.7 920.7,667.5 921.5,688.2 922.4,651.4 923.2,679.6 924.0,665.3 924.9,687.8 925.8,660.8 926.6,687.7 927.5,675.3 928.4,697.3 929.3,672.8 930.2,690.4 931.0,674.8 931.9,685.4 932.8,670.7 933.7,696.3 934.6,664.0 935.4,689.0 936.3,666.3 937.2,690.6 938.1,668.8 939.0,693.8 939.9,666.6 940.7,690.1 941.6,671.0 942.5,694.9 943.4,670.2 944.3,689.9 945.1,662.0 946.0,692.1 946.9,667.4 947.8,696.0 948.7,665.4 949.5,686.5 950.4,661.4 951.3,694.5 952.2,679.1 953.1,696.6 953.9,661.1 954.8,699.0 955.7,679.8 956.6,694.3 957.5,666.7 958.4,689.7 959.3,675.0 960.1,695.8 961.0,663.1 961.9,696.1 962.8,667.8 963.7,694.4 964.6,679.2 965.5,703.4 966.4,672.0 967.3,689.7 968.1,672.2 969.0,702.0 969.9,679.0 970.8,700.0 971.7,674.6 972.6,696.6 973.5,679.4 974.4,695.9 975.3,678.0 976.1,692.7 977.0,677.1 977.9,692.2 978.8,676.9 979.7,699.8 980.6,683.0 981.5,705.1 982.4,668.0 983.3,707.9 984.1,685.6 985.0,708.1 985.9,677.8 986.8,701.7 987.7,682.6 988.5,702.5 989.4,672.9 990.2,705.9 991.0,682.8 991.8,700.3 992.6,683.5 993.5,707.4 994.3,672.4 995.1,699.6 995.9,682.8 996.8,703.8 997.6,687.4 998.4,708.6 999.2,681.4 1000.0,700.0 1000.9,690.4 1001.7,714.2 1002.5,684.3 1003.3,711.6 1004.1,689.3 1005.0,707.8 1005.8,685.2 1006.6,708.0 1007.4,694.1 1008.2,711.4 1009.1,684.6 1009.9,706.9 1010.7,684.7 1011.5,716.6 1012.3,695.4 1013.2,713.9 1014.0,692.0 1014.8,717.9 1015.6,689.3 1016.4,708.9 1017.3,700.3 1018.1,721.5 1018.9,693.7 1019.7,719.2 1020.5,693.4 1021.4,725.6 1022.2,702.0 1023.0,724.1 1023.8,700.8 1024.6,723.1 1025.5,690.6 1026.3,713.1 1027.1,696.1 1027.9,719.5 1028.8,700.4 1029.6,721.9 1030.4,705.1 1031.2,717.6 1032.0,697.2 1032.9,727.5 1033.7,704.2 1034.5,716.6 1035.3,690.4 1036.1,730.3 1037.0,701.1 1037.8,720.3 1038.6,706.6 1039.4,727.5 1040.2,709.3 1041.1,735.1 1041.9,704.6 1042.7,729.8 1043.5,711.2 1044.3,724.0 1045.2,710.7 1046.0,730.7 1046.8,708.9 1047.6,728.6 1048.4,706.8 1049.3,731.9 1050.1,701.7 1050.9,730.6 1051.7,714.9 1052.6,732.2 1053.4,703.3 1054.2,730.3 1055.1,711.2 1056.0,732.0 1056.8,710.2 1057.7,735.9 1058.6,717.0 1059.5,734.3 1060.4,709.2 1061.3,741.6 1062.2,710.2 1063.1,741.1 1064.0,717.3 1064.9,735.9 1065.7,712.1 1066.6,732.7 1067.5,717.7 1068.4,731.1 1069.3,720.1 1070.2,736.4 1071.0,724.9 1071.9,743.2 1072.7,723.5 1073.6,739.4 1074.4,722.1 1075.2,738.3 1076.1,715.1 1076.9,740.1 1077.6,721.5 1078.4,737.0 1079.2,725.2 1079.9,742.0 1080.9,725.2 1081.8,741.5 1082.7,724.0 1083.6,751.6 1084.4,725.9 1085.3,744.6 1086.1,727.6 1087.2,756.5 1088.2,719.5 1089.1,748.3 1089.9,723.9 1090.8,742.9 1091.8,727.7 1092.7,746.9 1093.7,726.7 1094.7,742.4 1095.7,730.8 1096.5,748.3 1097.3,726.7 1098.3,739.6 1099.3,728.3 1100.2,752.3 1101.1,732.1 1102.1,748.8 1102.8,736.2 1103.5,751.9 1104.3,735.7 1105.1,744.4 1105.8,733.4 1106.6,759.4 1107.4,735.6 1108.2,746.1 1109.0,732.5 1109.8,752.8 1110.7,728.9 1111.5,748.1 1112.3,742.5 1113.2,752.7 1114.0,735.9 1114.9,756.3 1115.7,734.2 1116.5,750.2 1117.4,742.5 1118.2,756.3 1119.1,737.0 1119.9,759.5 1120.7,742.7 1121.6,754.6 1122.4,738.5 1123.2,762.8 1124.0,733.0 1124.9,759.1 1125.8,737.0 1126.7,755.7 1127.6,745.7 1128.4,758.2 1129.3,745.8 1130.2,757.8 1131.1,746.5 1132.0,761.2 1132.9,746.4 1133.8,764.1 1134.7,745.3 1135.6,761.8 1136.4,739.6 1137.3,763.2 1138.2,744.8 1139.1,762.2 1140.0,745.4 1140.9,764.7 1141.8,749.0 1142.7,767.1 1143.6,740.5 1144.4,767.5 1145.3,748.6 1146.2,757.8 1147.1,749.0 1148.0,764.9 1148.8,744.9 1149.6,764.2 1150.4,749.8 1151.2,771.3 1152.0,751.9 1152.8,770.3 1153.6,746.8 1154.4,762.2 1155.2,750.0 1156.0,765.9 1156.8,755.4 1157.6,762.5 1158.4,758.5 1159.2,771.2 1160.0,755.1 1160.8,771.6 1161.6,758.5 1162.4,770.3 1163.2,756.5 1164.0,766.7 1164.8,762.6 1165.6,775.0 1166.4,756.9 1167.2,770.9 1168.0,758.8 1168.8,777.7 1169.6,752.7 1170.4,773.0 1171.2,758.1 1172.0,784.9 1172.8,761.1 1173.5,783.4 1174.3,768.4 1175.1,784.3 1175.8,763.3 1176.6,773.9 1177.4,761.4 1178.1,784.8 1178.9,760.9 1179.7,786.4 1180.4,766.5 1181.2,780.4 1182.0,769.1 1182.7,784.0 1183.5,767.1 1184.3,783.4 1185.0,769.4 1185.8,789.4 1186.6,769.4 1187.3,795.5 1188.1,763.8 1188.9,784.0 1189.6,774.6 1190.4,784.4 1191.1,777.7 1191.9,791.9 1192.7,777.9 1193.4,787.0 1194.2,776.1 1195.0,794.4 1195.7,777.2 1196.6,790.9 1197.5,773.3 1198.3,794.6 1199.2,775.7 1200.1,796.9 1201.0,781.5 1201.9,794.8 1202.7,780.7 1203.6,798.2 1204.5,776.0 1205.4,791.2 1206.2,774.5 1207.1,791.1 1208.0,775.5 1208.9,796.4 1209.8,783.1 1210.6,792.0 1211.5,781.4 1212.4,796.2 1213.3,783.2 1214.1,798.6 1215.0,786.0 1215.9,796.9 1216.8,781.4 1217.7,791.4 1218.5,780.7 1219.4,793.2 1220.3,788.2 1221.2,795.9 1222.0,783.5 1222.9,801.7 1223.8,784.8 1224.7,804.0 1225.6,778.5 1226.4,803.1 1227.3,779.3 1228.2,800.8 1229.1,786.2 1230.0,802.2 1230.8,781.3 1231.7,801.2 1232.6,785.9 1233.5,795.3 1234.3,783.2 1235.2,802.4 1236.1,790.5 1237.0,801.9 1237.9,783.9 1238.7,801.7 1239.6,784.2 1240.5,805.1 1241.4,792.6 1242.2,802.0 1243.1,786.4 1244.0,806.8 1244.8,783.8 1245.6,798.5 1246.5,789.5 1247.3,807.4 1248.1,785.8 1248.9,811.4 1249.7,793.9 1250.5,805.0 1251.4,795.1 1252.2,809.9 1253.0,796.8 1253.8,811.9 1254.6,789.9 1255.5,810.3 1256.3,799.7 1257.1,807.2 1257.9,792.2 1258.7,805.5 1259.5,796.4 1260.4,810.7 1261.2,793.4 1262.0,812.8 1262.8,796.3 1263.6,811.1 1264.5,798.0 1265.3,812.9 1266.1,796.2 1266.9,813.4 1267.7,795.9 1268.6,809.1 1269.4,796.0 1270.3,814.8 1271.1,796.9 1272.0,816.3 1272.9,798.5 1273.7,821.7 1274.6,803.9 1275.4,817.5 1276.3,803.2 1277.1,818.5 1278.0,808.7 1278.9,817.8 1279.7,804.7 1280.6,816.3 1281.4,805.1 1282.3,814.4 1283.1,800.3 1284.0,821.5 1284.9,799.3 1285.7,817.6 1286.6,810.0 1287.4,822.0 1288.3,812.2 1289.1,822.3 1290.0,809.5 1290.9,820.9 1291.7,806.8 1292.6,822.6 1293.5,801.9 1294.4,825.1 1295.3,812.9 1296.2,826.7 1297.2,813.6 1298.1,824.3 1299.0,813.8 1300.0,821.8 1300.9,805.9 1301.9,823.2 1302.8,812.9 1303.7,823.6 1304.7,812.3 1305.6,830.6 1306.5,815.6 1307.4,822.3 1308.3,810.2 1309.2,821.4 1310.1,813.6 1310.9,830.6 1311.8,812.7 1312.6,825.5 1313.4,815.1 1314.5,824.2 1315.5,814.8 1316.3,827.5 1317.3,808.7 1318.3,830.0 1319.2,814.3 1320.1,824.1 1321.0,809.8 1321.8,820.6 1322.7,812.9 1323.5,824.2 1324.2,814.3 1325.0,821.3 1325.8,808.8 1326.5,818.3 1327.3,812.0 1328.1,820.5 1328.8,807.8 1329.6,817.2 1330.4,803.6 1331.2,819.5 1332.0,806.9 1332.7,818.3 1333.4,807.2 1334.1,815.3 1334.8,800.4 1335.6,818.0 1336.3,803.2 1337.1,819.2 1337.8,803.9 1338.5,816.8 1339.3,800.3 1340.0,810.6 1340.7,796.6 1341.5,807.4 1342.2,795.7 1342.9,808.0 1343.6,795.1 1344.2,813.8 1344.9,793.4 1345.5,806.3 1346.1,794.1 1346.7,805.9 1347.5,796.4 1348.3,802.1 1349.1,791.0 1349.9,805.6 1350.6,794.7 1351.2,802.2 1351.8,786.6 1352.3,801.4 1352.8,790.1 1353.4,803.1 1354.0,789.3 1354.7,800.2 1355.2,779.1 1355.8,791.9 1356.4,782.0 1357.1,796.5 1357.7,780.6 1358.4,791.5 1359.0,780.6 1359.7,787.9 1360.3,777.7 1361.0,792.4 1361.6,778.8 1362.3,786.7 1363.1,777.1 1364.0,788.6 1364.8,775.1 1365.7,788.3 1366.5,775.5 1367.4,785.4 1368.3,781.6 1369.1,792.4 1369.9,773.6 1370.7,787.4 1371.5,781.1 1372.3,793.7 1373.0,777.4 1373.8,796.4 1374.5,778.4 1375.1,796.1 1375.8,782.8 1376.4,798.9 1377.3,786.1 1378.1,801.1 1378.6,781.8 1379.1,799.0 1379.5,783.3 1379.9,797.4 1380.2,783.6 1380.5,793.8 1380.9,783.5 1381.2,787.7 1381.5,774.5 1381.8,787.4 1382.1,774.2 1382.5,781.8 1382.8,767.9 1383.1,786.2 1383.4,770.4 1383.8,783.5 1384.1,767.3 1384.4,784.5 1384.7,765.6 1384.9,774.0 1385.1,765.4 1385.4,780.6 1385.6,761.3 1385.9,773.8 1386.1,759.5 1386.3,773.7 1386.6,757.7 1386.8,766.8 1387.1,760.4 1387.3,771.7 1387.6,756.5 1387.8,768.9 1388.0,748.2 1388.3,765.1 1388.5,751.4 1388.7,762.5 1389.0,752.2 1389.2,762.1 1389.4,752.8 1389.6,755.7 1389.8,742.7 1390.0,758.4 1390.2,741.6 1390.4,757.4 1390.6,742.8 1390.7,757.1 1390.9,739.0 1391.1,749.3 1391.2,735.2 1391.3,748.0 1391.4,736.6 1391.5,756.8 1391.6,735.2 1391.7,752.4 1391.8,734.8 1391.9,747.6 1392.0,731.9 1392.1,745.3 1392.1,732.9 1392.2,739.6 1392.3,727.7 1392.4,736.1 1392.5,729.2 1392.6,740.4 1392.7,726.4 1392.8,733.9 1392.9,726.1 1393.1,735.2 1393.3,722.0 1394.1,734.1 1394.3,722.2 1394.5,740.9 1394.7,724.7 1394.8,732.4 1394.9,724.8 1395.0,738.8 1395.1,726.5 1395.3,735.9 1395.4,725.5 1395.5,742.6 1395.6,731.1 1395.7,740.2 1395.8,731.8 1396.0,747.0 1396.1,731.6 1396.2,748.3 1396.3,741.2 1396.4,751.5 1396.4,741.8 1396.5,754.0 1396.6,744.0 1396.7,754.0 1396.8,743.0 1396.9,755.9 1396.9,745.5 1397.1,755.6 1397.2,746.5 1397.3,758.6 1397.4,748.2 1397.5,761.7 1397.7,755.6 1397.8,764.4 1397.9,748.7 1398.0,767.4 1398.1,752.9 1398.2,769.6 1398.4,757.9 1398.5,766.3 1398.7,755.9 1398.9,775.0 1399.1,758.3 1399.6,774.7 1400.3,759.0 1400.6,772.1 1400.9,757.6 1401.1,770.3 1401.3,755.7 1401.5,765.7 1401.7,756.6 1401.8,768.1 1402.0,753.7 1402.3,759.7 1402.5,750.4 1402.7,757.9 1402.9,743.5 1403.1,763.0 1403.4,745.4 1403.7,757.3 1403.9,748.9 1404.2,756.9 1404.5,743.9 1404.7,753.5 1405.0,741.7 1405.3,755.8 1405.5,738.6 1405.7,749.2 1405.9,743.4 1406.2,750.4 1406.4,738.5 1406.6,749.5 1406.8,730.0 1406.9,751.3 1407.1,732.2 1407.3,748.0 1407.4,726.4 1407.6,743.0 1407.8,728.5 1407.9,743.5 1408.1,727.6 1408.2,737.8 1408.4,727.7 1408.5,737.3 1408.7,725.4 1408.8,737.5 1409.0,722.7 1409.1,737.8 1409.2,716.7 1409.3,728.5 1409.5,715.4 1409.6,729.2 1409.7,712.8 1409.8,730.0 1410.0,715.1 1410.1,728.7 1410.2,714.7 1410.4,725.9 1410.5,710.2 1410.6,722.7 1410.8,708.3 1410.9,718.4 1411.0,705.9 1411.2,715.9 1411.3,703.8 1411.4,718.7 1411.6,701.6 1411.7,713.8 1411.8,694.2 1412.0,712.8 1412.1,699.3 1412.2,709.4 1412.3,693.7 1412.5,708.2 1412.6,692.9 1412.7,704.9 1412.9,692.9 1413.0,704.5 1413.1,689.2 1413.2,702.8 1413.4,692.3 1413.5,702.9 1413.6,691.2 1413.7,697.0 1413.9,683.8 1414.0,693.0 1414.1,681.9 1414.2,694.8 1414.3,684.7 1414.4,694.7 1414.5,678.5 1414.6,690.6 1414.7,679.0 1414.8,692.7 1414.9,674.6 1415.0,688.5 1415.1,677.1 1415.3,684.2 1415.4,674.8 1415.5,687.0 1415.6,669.6 1415.7,684.1 1415.8,665.5 1415.9,680.5 1416.0,668.6 1416.1,678.4 1416.1,660.3 1416.2,672.7 1416.3,662.9 1416.4,677.0 1416.5,661.7 1416.6,680.3 1416.7,656.7 1416.8,674.1 1416.9,660.6 1417.0,671.4 1417.1,657.2 1417.2,668.3 1417.3,653.7 1417.4,664.9 1417.5,650.6 1417.6,669.0 1417.7,647.6 1417.7,663.2 1417.8,653.6 1417.9,663.7 1418.0,643.8 1418.1,658.3 1418.2,646.3 1418.3,658.9 1418.3,645.4 1418.4,657.5 1418.5,644.4 1418.6,651.0 1418.7,639.6 1418.8,647.7 1418.8,637.9 1418.9,651.5 1419.0,639.9 1419.1,650.9 1419.1,636.1 1419.2,648.2 1419.3,632.3 1419.4,643.8 1419.5,632.5 1419.6,638.3 1419.7,630.9 1419.7,639.0 1419.8,622.5 1419.9,641.7 1420.0,628.6 1420.1,639.0 1420.2,622.0 1420.3,633.5 1420.4,619.3 1420.5,634.7 1420.5,620.0 1420.6,629.7 1420.7,615.9 1420.8,625.7 1420.9,613.9 1420.9,626.2 1421.0,614.3 1421.1,622.1 1421.1,609.7 1421.2,625.0 1421.3,607.7 1421.3,618.4 1421.4,604.8 1421.5,619.4 1421.5,603.4 1421.6,620.4 1421.7,605.9 1421.7,615.2 1421.8,603.4 1421.9,611.3 1421.9,594.1 1422.0,614.2 1422.1,602.5 1422.2,610.9 1422.3,597.4 1422.3,611.1 1422.4,593.9 1422.6,605.4 1422.7,591.4 1422.8,604.8 1422.9,589.7 1423.1,601.2 1423.2,588.3 1423.3,601.5 1423.5,589.1 1423.6,598.0 1423.8,584.5 1424.0,594.8 1424.3,580.2 1424.7,591.0 1425.3,583.2 1425.6,593.8 1425.8,582.5 1426.0,596.7 1426.2,586.1 1426.3,601.0 1426.4,592.2 1426.6,602.8 1426.7,591.5 1426.8,602.6 1426.9,591.4 1427.1,607.2 1427.2,590.9 1427.3,611.7 1427.5,594.4 1427.6,607.6 1427.7,598.4 1427.8,612.5 1427.8,594.3 1427.9,613.4 1428.0,602.0 1428.1,615.0 1428.2,601.6 1428.3,616.3 1428.5,606.4 1428.6,613.4 1428.7,608.0 1428.9,623.5 1429.0,608.0 1429.1,617.5 1429.3,610.4 1429.4,619.4 1429.6,607.0 1429.7,626.9 1429.9,617.7 1430.1,630.6 1430.2,618.4 1430.3,631.6 1430.5,617.9 1430.6,628.5 1430.8,617.8 1430.9,629.7 1431.0,617.7 1431.2,635.3 1431.3,625.9 1431.5,632.1 1431.6,620.6 1431.8,642.7 1431.9,630.3 1432.0,645.2 1432.2,628.3 1432.3,642.1 1432.5,631.0 1432.6,643.9 1432.7,628.9 1432.9,647.2 1433.0,639.8 1433.1,654.6 1433.2,634.7 1433.4,648.1 1433.5,640.0 1433.6,650.5 1433.7,641.0 1433.7,655.9 1433.8,642.1 1433.9,654.8 1434.0,646.6 1434.0,660.4 1434.1,646.4 1434.2,666.0 1434.2,650.1 1434.3,663.8 1434.4,649.6 1434.4,661.4 1434.5,647.8 1434.6,665.6 1434.7,655.8 1434.7,666.3 1434.8,652.5 1434.9,665.7 1434.9,653.4 1435.0,672.7 1435.1,659.7 1435.1,676.5 1435.2,656.2 1435.2,676.3 1435.3,662.4 1435.4,681.6 1435.4,660.7 1435.5,676.0 1435.6,667.2 1435.6,679.8 1435.7,669.7 1435.8,678.3 1435.8,668.0 1435.9,684.4 1436.0,672.1 1436.0,689.9 1436.1,675.7 1436.2,687.8 1436.2,675.3 1436.3,688.6 1436.4,678.1 1436.4,693.6 1436.5,679.6 1436.6,696.9 1436.6,683.4 1436.7,695.6 1436.8,686.9 1436.8,696.4 1436.9,686.8 1437.0,702.4 1437.1,684.8 1437.1,702.0 1437.2,683.8 1437.3,706.4 1437.4,688.7 1437.4,702.5 1437.5,696.5 1437.6,706.2 1437.7,695.4 1437.7,706.4 1437.8,697.1 1437.9,705.5 1438.0,694.1 1438.0,708.7 1438.1,701.8 1438.2,715.2 1438.3,706.2 1438.3,718.0 1438.4,701.0 1438.5,716.4 1438.6,708.3 1438.6,717.7 1438.7,712.0 1438.8,724.6 1438.9,708.7 1438.9,720.5 1439.0,713.1 1439.1,725.8 1439.2,708.2 1439.3,722.5 1439.4,715.6 1439.5,722.9 1439.5,713.9 1439.6,729.8 1439.7,711.3 1439.8,730.7 1439.9,720.3 1440.0,730.8 1440.1,718.5 1440.2,729.9 1440.3,720.5 1440.4,737.0 1440.6,725.9 1440.7,735.7 1440.8,723.5 1440.9,745.1 1441.1,729.4 1441.2,743.3 1441.3,725.3 1441.4,742.0 1441.6,732.5 1441.7,742.1 1441.8,734.0 1442.0,747.0 1442.1,736.5 1442.3,746.9 1442.4,741.4 1442.5,747.0 1442.7,741.5 1442.8,754.1 1443.0,741.9 1443.1,751.8 1443.3,740.5 1443.4,757.4 1443.6,746.0 1443.7,755.9 1443.9,743.9 1444.0,760.3 1444.2,749.7 1444.3,761.7 1444.5,749.3 1444.6,765.8 1444.8,753.3 1445.0,767.0 1445.1,751.6 1445.3,763.6 1445.5,751.7 1445.6,770.6 1445.8,760.0 1446.0,775.4 1446.1,761.5 1446.3,769.5 1446.5,761.2 1446.7,776.1 1446.9,760.8 1447.0,775.8 1447.2,760.8 1447.4,779.3 1447.6,762.8 1447.8,787.2 1448.0,768.2 1448.2,777.6 1448.4,772.0 1448.6,781.5 1448.8,772.6 1449.0,786.7 1449.2,778.2 1449.4,785.3 1449.5,777.5 1449.7,789.8 1449.9,783.3 1450.1,794.7 1450.3,780.2 1450.5,793.7 1450.8,781.3 1451.0,792.9 1451.3,784.1 1451.5,800.2 1451.8,782.7 1452.1,800.3 1452.5,788.0 1452.9,798.2 1453.9,784.6 1454.6,801.7 1455.3,787.9 1455.7,793.7 1456.2,787.4 1456.6,791.9 1457.1,779.8 1457.5,795.5 1458.0,783.8 1458.5,792.8 1458.9,773.4 1459.4,795.2 1459.8,782.1 1460.3,789.4 1460.7,779.7 1461.2,783.0 1461.6,773.8 1462.1,792.5 1462.6,768.5 1463.3,784.6 1464.2,772.8 1465.0,785.1 1465.8,770.0 1466.3,781.9 1466.9,779.1 1467.5,792.8 1468.1,775.5 1468.7,794.0 1469.3,777.7 1469.9,795.7 1470.5,781.9 1471.0,794.7 1471.6,777.5 1472.2,797.6 1473.0,784.3 1473.9,798.0 1474.7,785.2 1475.7,791.4 1476.4,780.9 1477.0,797.4 1477.4,778.2 1477.8,788.3 1478.1,776.3 1478.3,791.9 1478.4,778.3 1478.6,783.7 1478.7,772.3 1478.9,788.6 1479.0,771.4 1479.1,779.5 1479.2,775.2 1479.2,785.2 1479.3,767.2 1479.4,782.0 1479.5,768.3 1479.6,780.0 1479.7,767.3 1479.7,776.3 1479.8,766.5 1479.9,776.2 1480.0,763.6 1480.1,776.1 1480.2,758.3 1480.3,769.2 1480.4,753.3 1480.5,766.6 1480.7,755.4 1481.0,771.0 1481.5,753.0 1481.7,765.0 1481.8,755.6 1481.9,774.7 1482.0,756.2 1482.1,768.7 1482.2,763.9 1482.3,774.8 1482.4,765.1 1482.5,780.6 1482.5,767.7 1482.6,782.4 1482.7,766.4 1482.8,777.2 1482.9,772.8 1483.0,782.1 1483.0,772.1 1483.1,788.4 1483.2,775.2 1483.3,790.5 1483.4,781.3 1483.5,785.7 1483.6,780.2 1483.6,793.8 1483.7,782.6 1483.8,792.1 1483.9,782.7 1484.0,802.3 1484.1,786.2 1484.2,797.1 1484.3,790.3 1484.4,806.4 1484.5,789.9 1484.6,804.5 1484.7,788.2 1484.8,807.6 1484.9,796.0 1485.1,809.2 1485.3,793.1 1485.4,809.8 1485.6,794.4 1485.8,808.6 1486.0,799.4 1486.3,810.9 1486.6,799.1 1486.8,812.4 1487.1,801.8 1487.4,812.7 1487.8,804.9 1488.2,816.6 1488.6,806.6 1489.0,819.5 1489.4,808.4 1489.8,820.2 1490.3,814.2 1490.8,825.7 1491.4,813.2 1492.0,823.6 1492.6,815.2 1493.2,828.3 1493.8,816.6 1494.4,828.1 1495.1,812.1 1495.8,832.2 1496.5,813.3 1497.3,830.8 1498.2,821.2 1499.0,834.1 1499.9,816.3 1500.8,834.2 1501.6,818.3 1502.4,832.7 1503.4,821.6 1504.0,834.3 1504.5,815.4 1504.9,827.2 1505.2,814.8 1505.5,828.8 1505.8,813.2 1506.0,827.3 1506.2,810.9 1506.4,827.4 1506.6,809.5 1506.8,819.0 1507.0,807.5 1507.3,820.5 1507.4,810.6 1507.5,820.5 1507.7,809.5 1507.8,819.2 1508.0,799.6 1508.1,813.7 1508.3,799.8 1508.4,814.4 1508.6,798.7 1508.7,807.7 1508.9,796.7 1509.0,809.5 1509.1,794.6 1509.2,807.6 1509.3,792.0 1509.4,806.6 1509.5,791.4 1509.6,807.8 1509.7,791.0 1509.8,805.0 1509.9,789.0 1510.0,802.0 1510.1,789.2 1510.3,800.8 1510.4,782.7 1510.5,796.7 1510.6,782.0 1510.7,796.1 1510.8,785.0 1510.9,793.9 1511.0,776.7 1511.1,789.7 1511.2,782.6 1511.3,789.5 1511.4,777.7 1511.5,791.9 1511.6,774.1 1511.7,784.8 1511.8,773.6 1511.8,783.4 1511.9,771.3 1512.0,778.3 1512.1,768.0 1512.2,776.5 1512.3,762.5 1512.3,774.0 1512.4,764.4 1512.5,773.5 1512.5,766.1 1512.6,777.9 1512.7,765.3 1512.7,775.6 1512.8,762.7 1512.9,770.2 1512.9,751.3 1513.0,763.6 1513.1,758.9 1513.1,769.7 1513.2,753.0 1513.3,762.9 1513.3,751.6 1513.4,760.0 1513.4,749.3 1513.5,764.4 1513.6,748.7 1513.6,758.9 1513.7,742.6 1513.7,761.8 1513.8,745.3 1513.9,755.5 1513.9,743.3 1514.0,751.1 1514.0,741.0 1514.1,749.2 1514.2,742.5 1514.2,744.4 1514.3,738.0 1514.4,747.4 1514.4,731.1 1514.5,743.8 1514.5,732.8 1514.6,745.0 1514.7,728.6 1514.7,741.2 1514.8,728.8 1514.8,744.5 1514.9,727.8 1515.0,736.7 1515.0,729.4 1515.1,737.3 1515.1,724.2 1515.2,739.5 1515.3,722.8 1515.4,734.8 1515.4,717.4 1515.5,734.8 1515.6,720.9 1515.7,732.3 1515.8,715.2 1515.9,725.6 1516.0,713.7 1516.1,722.5 1516.2,711.4 1516.3,716.7 1516.4,706.9 1516.5,719.0 1516.6,708.3 1516.7,716.4 1516.8,697.7 1516.9,715.3 1517.0,702.5 1517.1,716.6 1517.2,701.4 1517.3,709.8 1517.4,698.8 1517.5,707.6 1517.6,693.6 1517.7,707.9 1517.8,695.6 1517.9,704.4 1518.1,691.7 1518.2,701.7 1518.3,690.2 1518.5,699.1 1518.6,690.2 1518.8,699.4 1519.7,690.1 1519.9,701.2 1520.1,689.8 1520.3,699.6 1520.4,692.7 1520.5,702.7 1520.7,693.7 1520.8,706.5 1520.9,695.8 1521.0,705.7 1521.1,693.4 1521.2,711.9 1521.3,698.5 1521.4,713.8 1521.5,699.7 1521.5,712.5 1521.6,702.1 1521.7,721.2 1521.8,701.5 1521.9,719.3 1522.0,706.7 1522.0,719.9 1522.1,701.8 1522.2,721.3 1522.3,706.7 1522.4,725.3 1522.4,709.8 1522.5,728.1 1522.6,712.8 1522.6,727.4 1522.7,717.0 1522.8,734.5 1522.8,716.5 1522.9,730.1 1522.9,715.4 1523.0,730.3 1523.0,720.7 1523.0,731.3 1523.1,722.4 1523.1,734.1 1523.2,722.9 1523.2,736.6 1523.3,727.7 1523.3,738.1 1523.4,728.5 1523.4,739.6 1523.5,727.9 1523.6,744.7 1523.6,732.1 1523.7,742.2 1523.7,733.4 1523.8,744.3 1523.9,736.2 1523.9,749.3 1524.0,739.8 1524.0,748.7 1524.1,741.9 1524.1,757.9 1524.2,742.8 1524.2,754.3 1524.3,741.6 1524.3,757.6 1524.3,743.0 1524.4,755.1 1524.4,750.2 1524.5,766.2 1524.5,749.3 1524.5,761.1 1524.6,750.7 1524.6,766.2 1524.7,756.0 1524.7,766.3 1524.8,755.0 1524.8,769.3 1524.8,756.5 1524.9,768.2 1524.9,761.1 1525.0,767.1 1525.0,758.5 1525.1,769.9 1525.1,764.0 1525.2,779.9 1525.2,766.1 1525.3,779.3 1525.3,767.7 1525.3,781.6 1525.4,769.1 1525.4,780.6 1525.5,767.9 1525.5,783.3 1525.6,776.7 1525.6,785.2 1525.7,774.0 1525.7,785.2 1525.8,775.4 1525.9,791.9 1525.9,774.1 1526.0,790.4 1526.0,779.7 1526.1,789.8 1526.1,784.3 1526.2,796.1 1526.3,784.1 1526.3,797.5 1526.4,787.2 1526.4,797.9 1526.5,789.8 1526.6,802.0 1526.6,789.0 1526.7,804.5 1526.8,789.6 1526.8,807.7 1526.9,798.5 1527.0,805.4 1527.1,796.4 1527.2,807.0 1527.3,795.2 1527.4,812.1 1527.6,800.1 1527.8,813.0 1528.0,799.2 1528.2,814.3 1528.4,805.4 1528.6,819.6 1528.9,805.6 1529.1,822.9 1529.4,807.7 1529.6,823.0 1529.9,811.7 1530.1,820.4 1530.5,812.2 1530.9,820.3 1531.3,813.0 1531.8,828.8 1532.3,815.3 1533.1,827.0 1533.9,813.2 1534.4,826.6 1534.7,811.9 1535.0,830.3 1535.1,810.6 1535.3,825.4 1535.4,809.4 1535.5,821.8 1535.6,807.9 1535.8,819.1 1535.9,803.6 1536.0,813.0 1536.1,805.3 1536.1,816.9 1536.2,805.1 1536.3,813.4 1536.4,802.9 1536.4,812.9 1536.5,797.4 1536.6,813.6 1536.7,796.5 1536.7,806.5 1536.8,795.3 1536.9,807.9 1536.9,790.7 1537.0,800.4 1537.1,791.5 1537.2,798.7 1537.2,789.0 1537.3,802.5 1537.4,787.9 1537.5,801.6 1537.6,785.9 1537.7,795.7 1537.8,784.0 1537.9,798.3 1537.9,783.4 1538.1,793.7 1538.2,784.3 1538.4,794.8 1538.9,782.4 1539.0,791.6 1539.1,783.9 1539.2,793.1 1539.3,785.3 1539.3,800.2 1539.4,784.7 1539.4,802.4 1539.5,784.7 1539.5,798.5 1539.6,789.0 1539.6,806.2 1539.7,786.5 1539.7,801.1 1539.7,797.6 1539.8,807.8 1539.8,797.1 1539.9,806.4 1539.9,797.5 1539.9,809.1 1540.0,805.1 1540.0,813.2 1540.1,802.7 1540.1,817.2 1540.1,803.1 1540.2,818.4 1540.2,808.3 1540.2,818.7 1540.3,814.1 1540.3,821.6 1540.4,809.9 1540.4,826.5 1540.5,809.7 1540.5,826.8 1540.5,821.2 1540.6,831.4 1540.6,816.5 1540.7,828.7 1540.7,825.1 1540.8,833.9 1540.8,821.4 1540.9,832.8 1540.9,825.8 1541.0,835.4 1541.0,829.6 1541.1,835.7 1541.1,828.2 1541.2,840.2 1541.3,832.2 1541.4,838.4 1541.5,828.3 1541.6,842.7 1541.7,835.0 1541.8,844.3 1541.9,835.8 1542.0,845.4 1542.2,838.4 1542.3,850.4 1542.4,838.2 1542.5,849.9 1542.7,843.6 1542.8,853.7 1542.9,838.6 1543.0,852.2 1543.2,844.8 1543.4,856.3 1543.6,846.8 1543.7,861.5 1543.9,849.4 1544.0,862.4 1544.2,850.6 1544.3,862.0 1544.5,853.5 1544.6,861.2 1544.8,855.6 1544.9,865.1 1545.0,857.3 1545.2,870.6 1545.3,857.4 1545.4,871.7 1545.6,857.5 1545.7,868.1 1545.8,861.0 1545.9,874.2 1546.1,864.2 1546.2,873.0 1546.3,864.6 1546.5,880.9 1546.6,865.4 1546.7,879.9 1546.9,868.3 1547.0,884.3 1547.2,867.4 1547.3,887.0 1547.4,873.5 1547.6,886.2 1547.7,875.3 1547.9,888.4 1548.0,878.8 1548.2,891.6 1548.3,881.1 1548.5,889.6 1548.6,880.3 1548.8,891.8 1548.9,883.4 1549.1,890.6 1549.3,882.7 1549.5,896.8 1549.8,886.9 1550.0,899.7 1550.3,887.8 1550.5,898.6 1550.8,885.1 1551.2,901.1 1551.7,889.6 1552.1,908.4 1552.6,895.1 1553.0,905.7 1553.5,896.9 1554.1,909.4 1554.8,897.3 1555.4,905.8 1556.0,894.9 1556.7,912.3 1557.2,901.8 1557.7,914.5 1558.2,900.9 1558.7,919.6 1559.3,899.1 1559.8,913.9 1560.3,905.6 1560.8,914.8 1561.4,906.2 1561.9,918.6 1562.5,906.2 1563.1,919.9 1563.9,912.6 1564.9,918.7 1565.6,906.4 1566.5,923.9 1567.3,910.5 1568.2,921.0 1569.1,910.6 1570.0,921.3 1570.9,913.9 1571.8,922.8 1572.7,910.6 1573.6,919.8 1574.5,911.7 1575.0,918.5 1575.5,902.9 1576.0,912.2 1576.5,900.7 1576.8,915.8 1577.2,904.4 1577.5,909.0 1577.9,897.9 1578.2,911.5 1578.6,897.2 1578.9,908.0 1579.3,898.3 1579.6,908.5 1580.0,896.4 1580.3,906.3 1580.6,895.9 1581.0,899.7 1581.3,893.2 1581.6,902.9 1581.9,891.8 1582.2,895.1 1582.5,884.1 1582.8,896.6 1583.1,878.8 1583.5,898.8 1583.8,881.0 1584.3,894.5 1585.1,885.6 1585.6,891.1 1585.8,883.7 1586.1,894.7 1586.2,888.1 1586.4,894.7 1586.5,888.9 1586.6,901.8 1586.7,888.2 1586.8,900.4 1586.9,891.5 1587.0,903.6 1587.0,894.2 1587.1,903.9 1587.2,898.3 1587.3,908.1 1587.5,894.2 1587.6,909.6 1587.8,897.4 1588.0,911.5 1588.2,895.4 1588.4,912.9 1588.6,905.4 1588.9,911.7 1589.1,902.3 1589.3,918.7 1589.5,904.0 1589.7,919.9 1590.0,907.2 1590.2,916.1 1590.5,911.1 1590.7,917.2 1591.0,912.1 1591.3,919.8 1591.5,912.6 1591.8,924.3 1592.2,918.6 1592.5,928.1 1592.9,914.2 1593.3,924.7 1593.6,917.5 1594.0,931.6 1594.4,920.3 1594.9,933.7 1595.3,920.9 1595.7,935.9 1596.2,922.6 1596.7,934.5 1597.2,923.3 1597.8,938.3 1598.4,925.3 1599.0,936.5 1599.6,928.8 1600.4,937.5 1601.3,929.1 1602.4,939.5 1603.2,927.6 1604.1,938.9 1605.0,927.9 1606.0,939.3 1606.9,923.9 1607.9,941.5 1608.9,928.7 1609.9,939.2 1610.9,927.7 1611.9,937.6 1612.9,927.2 1613.8,936.0 1614.7,929.7 1615.5,933.3 1616.3,925.9 1617.3,940.6 1618.2,929.2 1619.0,939.9 1619.9,929.2 1620.6,940.7 1621.3,931.7 1622.1,941.0 1622.8,931.4 1623.5,938.5 1624.3,931.5 1625.1,942.9 1626.0,936.3 1627.0,944.3 1627.7,931.2 1628.4,942.2 1629.0,929.1 1629.7,939.3 1630.2,931.2 1630.7,937.9 1631.2,928.3 1631.8,942.9 1632.3,921.2 1632.9,934.8 1633.4,925.1 1634.0,935.0 1634.6,920.9 1635.1,930.8 1635.7,923.0 1636.3,935.4 1636.8,916.1 1637.4,925.0 1637.9,921.1 1638.5,925.0 1639.0,914.6 1639.6,926.6 1640.1,914.3 1640.6,919.7 1641.1,911.3 1641.6,923.6 1642.0,910.4 1642.5,919.5 1643.0,907.5 1643.6,919.0 1644.1,910.2 1644.6,918.0 1645.0,909.3 1645.7,918.5 1646.3,903.2 1646.9,912.1 1647.5,902.2 1648.0,916.1 1648.5,905.5 1649.0,911.4 1649.7,895.9 1650.3,906.4 1651.0,898.9 1651.7,905.3 1652.3,897.4 1652.9,903.5 1653.8,899.9 1654.6,904.9 1655.5,894.2 1656.3,905.9 1657.1,892.6 1657.9,907.2 1658.8,891.6 1659.7,906.5 1660.3,896.7 1660.9,905.7 1661.3,889.6 1661.7,913.2 1662.0,895.5 1662.4,911.3 1662.8,897.1 1663.2,910.6 1663.7,896.9 1664.0,912.6 1664.4,903.6 1664.8,920.8 1665.0,909.3 1665.3,917.8 1665.6,910.9 1665.9,917.0 1666.2,908.6 1666.5,919.4 1666.8,909.7 1667.1,920.2 1667.5,912.2 1667.8,921.0 1668.1,914.8 1668.5,922.3 1668.8,914.1 1669.2,924.4 1669.6,915.8 1670.0,928.5 1670.3,920.0 1670.7,933.9 1671.0,920.5 1671.3,928.4 1671.6,921.1 1672.0,929.9 1672.3,923.2 1672.6,934.7 1673.0,928.9 1673.3,937.5 1673.7,927.8 1674.1,943.9 1674.5,929.8 1674.8,945.4 1675.3,926.9 1675.7,940.7 1676.1,934.1 1676.6,947.2 1677.0,934.1 1677.5,946.0 1678.0,936.1 1678.6,944.3 1679.1,938.1 1679.6,946.6 1680.0,942.4 1680.5,949.6 1681.0,935.5 1681.4,955.8 1681.9,941.6 1682.4,953.5 1683.0,941.6 1683.5,958.0 1684.0,943.6 1684.6,954.9 1685.1,946.8 1685.7,960.5 1686.2,941.2 1686.8,957.6 1687.4,953.0 1688.0,962.7 1688.5,950.6 1689.1,962.5 1689.7,948.7 1690.3,963.7 1690.9,956.6 1691.5,960.9 1692.2,954.8 1692.8,963.5 1693.4,955.4 1694.0,964.6 1694.6,958.3 1695.2,965.4 1695.8,959.6 1696.4,969.2 1697.1,958.4 1697.7,975.0 1698.4,961.7 1699.1,970.7 1699.8,957.6 1700.5,975.0 1701.2,962.1 1701.9,976.8 1702.7,961.2 1703.4,978.9 1704.1,964.2 1704.8,979.4 1705.6,969.2 1706.3,977.0 1707.0,968.3 1707.8,979.8 1708.5,969.0 1709.3,981.4 1710.0,970.0 1710.7,980.5 1711.5,975.2 1712.2,984.7 1712.9,970.6 1713.7,981.4 1714.4,971.8 1715.1,985.5 1715.9,973.8 1716.6,981.4 1717.4,978.0 1718.2,985.1 1719.0,972.1 1719.8,985.6 1720.6,978.1 1721.4,986.1 1722.2,979.6 1723.1,990.9 1723.9,983.7 1724.7,987.0 1725.5,979.0 1726.3,992.3 1727.2,983.3 1728.0,995.7 1728.8,980.3 1729.6,990.1 1730.3,984.2 1731.1,998.0 1731.9,986.3 1732.6,995.2 1733.4,982.9 1734.3,996.1 1735.3,989.1 1736.2,995.7 1737.0,989.9 1738.0,999.2 1739.0,991.0 1739.9,1000.4 1740.8,991.0 1741.7,997.9 1742.5,990.2 1743.3,996.5 1744.1,983.4 1744.9,999.4 1745.7,981.9 1746.5,995.5 1747.3,983.9 1748.2,995.3 1749.0,981.5 1749.9,992.5 1750.7,979.1 1751.4,993.2 1752.0,977.9 1752.7,992.3 1753.4,977.7 1754.0,987.9 1754.7,979.0 1755.4,984.9 1756.1,977.1 1756.8,986.1 1757.5,972.6 1758.2,981.8 1758.9,967.0 1759.5,983.1 1760.2,968.5 1760.8,984.6 1761.4,974.4 1762.0,980.0 1762.6,965.3 1763.3,975.2 1764.0,965.9 1765.0,975.9 1765.9,968.1 1766.7,978.4 1767.7,971.2 1768.7,979.1 1769.5,969.8 1770.1,978.0 1770.8,967.7" fill="none" stroke="#0000ff" stroke-width="7" stroke-linejoin="round" stroke-linecap="round"/>
<line x1="1284" y1="715" x2="1322" y2="753" stroke="#000" stroke-width="9" stroke-linecap="butt"/>
<polygon points="1306,762.5 1332.5,737 1345.5,776" fill="#000" stroke="#000" stroke-width="1.5" stroke-linejoin="round"/>
<text transform="matrix(1.1717 0 0 1 326.71 140.64)" font-family='"Liberation Serif", "Times New Roman", serif' font-size="68.05" font-weight="normal" font-style="italic" fill="#000">ν</text>
<text transform="matrix(0.9925 0 0 1 382.90 140.01)" font-family='"Liberation Sans", Arial, sans-serif' font-size="70.20" font-weight="normal" font-style="normal" fill="#000">–CH</text>
<text transform="matrix(1.1506 0 0 1 185.92 1166.73)" font-family='"Liberation Serif", "Times New Roman", serif' font-size="68.69" font-weight="normal" font-style="italic" fill="#000">ν</text>
<text transform="matrix(1.0105 0 0 1 240.43 1166.11)" font-family='"Liberation Sans", Arial, sans-serif' font-size="70.34" font-weight="normal" font-style="normal" fill="#000">=CH</text>
<text transform="matrix(1.1442 0 0 1 1122.63 686.73)" font-family='"Liberation Serif", "Times New Roman", serif' font-size="68.27" font-weight="normal" font-style="italic" fill="#000">ν</text>
<text transform="matrix(0.9872 0 0 1 1160.10 687.00)" font-family='"Liberation Sans", Arial, sans-serif' font-size="71.80" font-weight="normal" font-style="normal" fill="#000">–(C=N)</text>
<text transform="matrix(1.1504 0 0 1 1545.98 842.76)" font-family='"Liberation Serif", "Times New Roman", serif' font-size="65.07" font-weight="normal" font-style="italic" fill="#000">ν</text>
<text transform="matrix(1.0181 0 0 1 1597.69 843.70)" font-family='"Liberation Serif", "Times New Roman", serif' font-size="71.89" font-weight="normal" font-style="normal" fill="#000">N–O</text>
<text transform="matrix(1.0352 0 0 1 1362.34 1137.24)" font-family='"Liberation Sans", Arial, sans-serif' font-size="67.27" font-weight="normal" font-style="normal" fill="#000">imidazole</text>
<text transform="matrix(1.0377 0 0 1 1364.16 1214.54)" font-family='"Liberation Sans", Arial, sans-serif' font-size="67.13" font-weight="normal" font-style="normal" fill="#000">skeleton</text>
<text transform="matrix(1.0489 0 0 1 285.54 1785.68)" font-family='"Liberation Sans", Arial, sans-serif' font-size="74.01" font-weight="normal" font-style="normal" fill="#000">3000</text>
<text transform="matrix(1.0675 0 0 1 631.43 1785.68)" font-family='"Liberation Sans", Arial, sans-serif' font-size="74.01" font-weight="normal" font-style="normal" fill="#000">2500</text>
<text transform="matrix(1.0403 0 0 1 983.63 1785.68)" font-family='"Liberation Sans", Arial, sans-serif' font-size="74.01" font-weight="normal" font-style="normal" fill="#000">2000</text>
<text transform="matrix(1.0153 0 0 1 1335.48 1785.68)" font-family='"Liberation Sans", Arial, sans-serif' font-size="74.01" font-weight="normal" font-style="normal" fill="#000">1500</text>
<text transform="matrix(1.0415 0 0 1 1684.13 1785.68)" font-family='"Liberation Sans", Arial, sans-serif' font-size="74.01" font-weight="normal" font-style="normal" fill="#000">1000</text>
<text transform="matrix(0.9679 0 0 1 596.56 1957.40)" font-family='"Liberation Sans", Arial, sans-serif' font-size="88.60" font-weight="bold" font-style="normal" fill="#000">Raman</text>
<text transform="matrix(0.9878 0 0 1 900.92 1957.40)" font-family='"Liberation Sans", Arial, sans-serif' font-size="88.60" font-weight="bold" font-style="normal" fill="#000">shift</text>
<text transform="matrix(0.8678 0 0 1 1107.17 1957.40)" font-family='"Liberation Sans", Arial, sans-serif' font-size="88.60" font-weight="bold" font-style="normal" fill="#000">(</text>
<text transform="matrix(1.0160 0 0 1 1135.88 1957.40)" font-family='"Liberation Sans", Arial, sans-serif' font-size="88.60" font-weight="bold" font-style="normal" fill="#000">cm</text>
<text transform="matrix(0.8021 0 0 1 1258.43 1915.30)" font-family='"Liberation Sans", Arial, sans-serif' font-size="59.74" font-weight="bold" font-style="normal" fill="#000">-1</text>
<text transform="matrix(0.8881 0 0 1 1311.83 1954.61)" font-family='"Liberation Sans", Arial, sans-serif' font-size="83.79" font-weight="bold" font-style="normal" fill="#000">)</text>
<g transform="translate(102.6 1116.60) rotate(-90)"><text transform="matrix(0.9530 0 0 1 -5.67 0)" font-family='"Liberation Sans", Arial, sans-serif' font-size="89.0" font-weight="bold" fill="#000">Intensity (a.u.)</text></g>
</svg>
</body></html>
